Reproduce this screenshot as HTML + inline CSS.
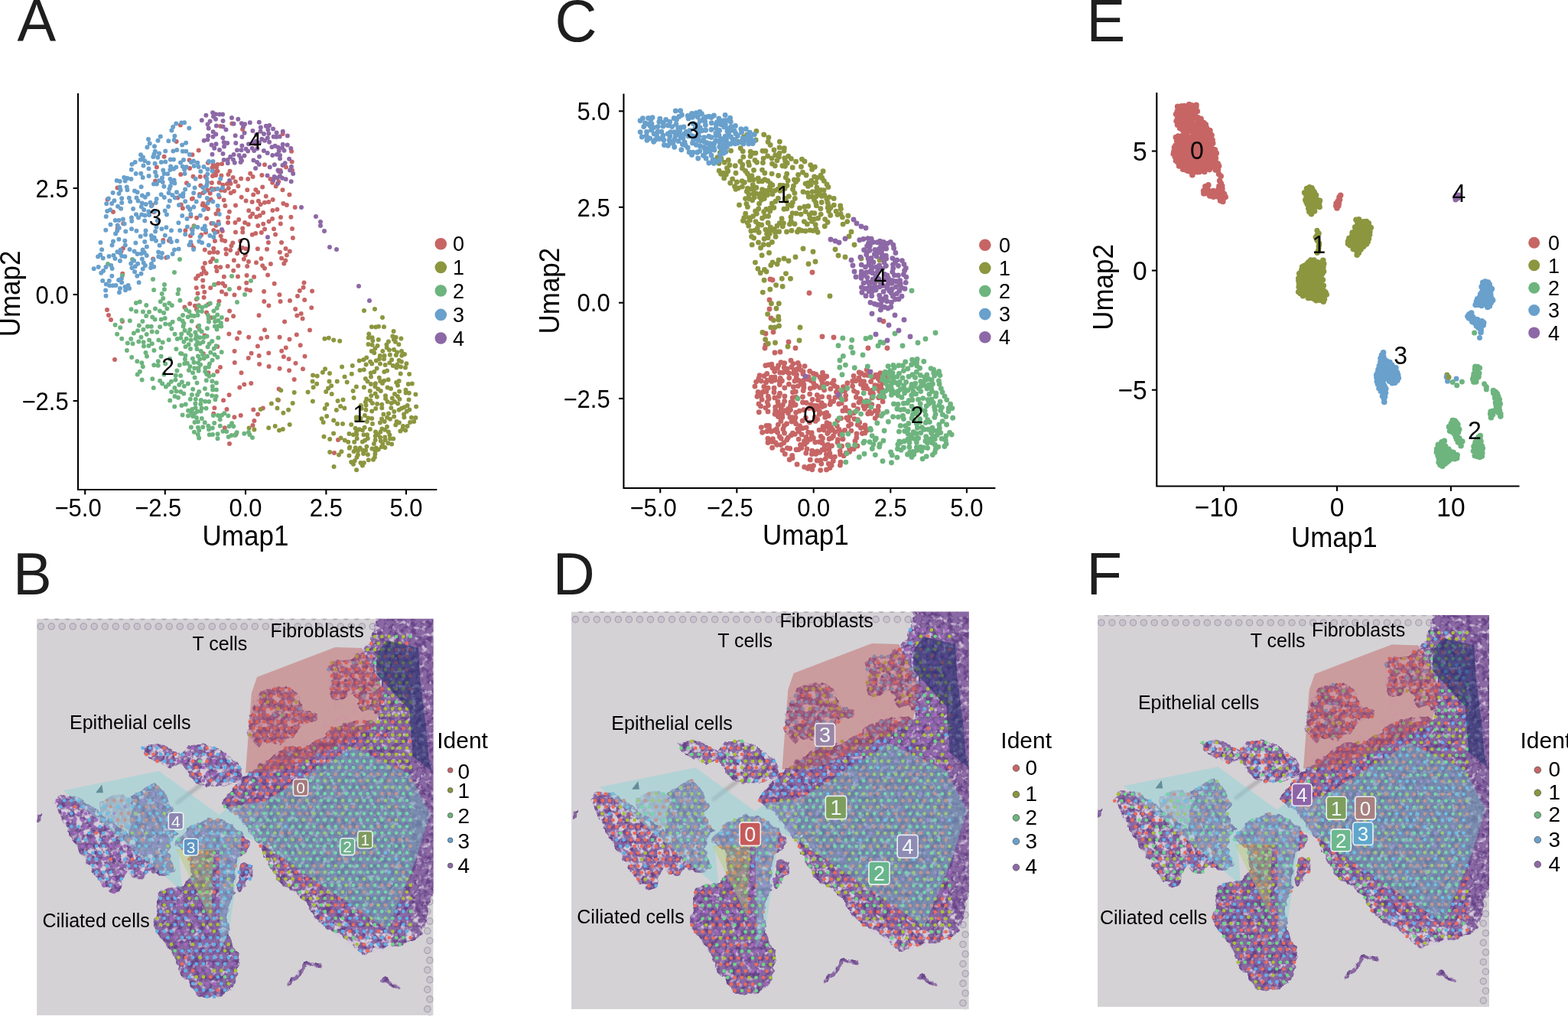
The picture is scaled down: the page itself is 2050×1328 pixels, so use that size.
<!DOCTYPE html>
<html><head><meta charset="utf-8"><title>Figure</title><style>html,body{margin:0;padding:0;background:#fff;overflow:hidden}svg{display:block}text{font-family:"Liberation Sans",Arial,sans-serif}</style></head><body>
<svg width="2050" height="1328" viewBox="0 0 2050 1328" font-family="Liberation Sans, Arial, sans-serif">
<rect width="2050" height="1328" fill="#fff"/>
<text transform="translate(22.4 53.8) scale(1 1.030)" font-size="76" text-anchor="start" fill="#1e1e1e">A</text>
<text transform="translate(725.5 53.8) scale(1 1.030)" font-size="76" text-anchor="start" fill="#1e1e1e">C</text>
<text transform="translate(1420.5 53.8) scale(1 1.030)" font-size="76" text-anchor="start" fill="#1e1e1e">E</text>
<text transform="translate(17.0 776.6) scale(1 1.030)" font-size="76" text-anchor="start" fill="#1e1e1e">B</text>
<text transform="translate(722.7 776.6) scale(1 1.030)" font-size="76" text-anchor="start" fill="#1e1e1e">D</text>
<text transform="translate(1420.5 776.6) scale(1 1.030)" font-size="76" text-anchor="start" fill="#1e1e1e">F</text>
<defs>
<filter id="rough" x="-5%" y="-5%" width="110%" height="110%" color-interpolation-filters="sRGB">
<feTurbulence type="fractalNoise" baseFrequency="0.05" numOctaves="2" seed="4" result="t"/>
<feDisplacementMap in="SourceGraphic" in2="t" scale="16" xChannelSelector="R" yChannelSelector="G" result="d"/>
<feTurbulence type="fractalNoise" baseFrequency="0.075" numOctaves="3" seed="9" result="n"/>
<feColorMatrix in="n" type="matrix" values="0 0 0 0 0.40  0 0 0 0 0.26  0 0 0 0 0.53  3.6 0 0 0 -1.55" result="dk"/>
<feComposite in="dk" in2="d" operator="in" result="dk2"/>
<feColorMatrix in="n" type="matrix" values="0 0 0 0 0.8  0 0 0 0 0.74  0 0 0 0 0.84  0 0 4.2 0 -2.3" result="lt"/>
<feComposite in="lt" in2="d" operator="in" result="lt2"/>
<feMerge><feMergeNode in="d"/><feMergeNode in="dk2"/><feMergeNode in="lt2"/></feMerge>
</filter>
<filter id="blur3"><feGaussianBlur stdDeviation="3"/></filter>
<filter id="holes" x="0" y="0" width="1" height="1" color-interpolation-filters="sRGB">
<feTurbulence type="fractalNoise" baseFrequency="0.06" numOctaves="3" seed="33" result="h"/>
<feColorMatrix in="h" type="matrix" values="0 0 0 0 0.83  0 0 0 0 0.8  0 0 0 0 0.85  0 6 0 0 -3.1" result="hc"/>
<feComposite in="hc" in2="SourceGraphic" operator="in"/>
</filter>
<clipPath id="fr"><rect width="1000" height="1000"/></clipPath>
<g id="tis">
<g filter="url(#rough)"><path d="M862 -30 1030 -30 1030 694 1000 700 990 743 976 802 951 821 902 836 854 841 829 855 805 836 780 811 732 787 702 758 683 723 654 694 624 680 595 641 576 602 561 573 537 544 512 504 478 485 468 470 488 451 520 410 560 380 598 357 632 330 667 330 701 319 732 304 747 285 770 277 793 269 824 266 847 266 860 271 866 250 847 235 824 243 812 227 820 212 801 197 778 208 762 216 747 204 740 181 747 158 738 132 747 113 770 111 793 109 808 97 828 86 839 74 847 55 856 36ZM537 281 541 250 552 216 575 193 598 181 629 180 648 183 663 200 671 220 682 243 713 246 709 266 682 269 667 288 648 308 629 315 613 327 579 319 560 330 548 311 537 300ZM268 329 302 324 345 335 365 350 385 329 424 324 463 338 498 363 517 382 522 407 507 421 468 431 429 431 400 416 378 388 360 372 342 382 302 368 278 353ZM241 456 261 446 278 433 290 426 303 421 313 433 325 446 335 470 345 490 335 507 345 535 357 554 345 569 335 594 345 619 350 643 335 656 315 656 295 643 278 631 258 611 241 584 239 554 236 535 240 515 243 485ZM44 475 54 460 73 451 102 456 127 470 161 495 205 524 244 558 273 583 302 607 293 641 273 661 249 661 234 646 220 670 215 695 195 700 176 685 151 651 122 612 98 568 73 524 58 495ZM312 700 342 685 376 680 395 651 385 602 350 577 369 550 394 530 419 520 443 510 468 515 493 525 518 548 537 565 542 582 528 600 510 610 503 651 498 676 505 701 488 724 483 767 488 802 502 841 512 865 510 904 498 938 468 958 439 965 405 958 390 928 366 899 351 865 332 831 312 806 298 782 307 743ZM517 627 546 627 546 661 517 695 507 680ZM5 500 15 497 13 520 6 522Z" fill="#8A68A3"/>
<path d="M639 928 660 910 683 875 717 882M878 919 900 930 917 938" fill="none" stroke="#8A68A3" stroke-width="9" stroke-linecap="round" stroke-linejoin="round"/></g>
<g filter="url(#rough)" opacity=".4"><path d="M160 470 200 452 240 458 245 520 265 565 200 520 165 495Z" fill="#8A68A3"/></g>
<path d="M576 470 800 331 942 399 995 500 956 626 888 792 566 573Z" fill="#2E2050" opacity=".22"/>
<path d="M537 281 541 250 552 216 575 193 598 181 629 180 648 183 663 200 671 220 682 243 713 246 709 266 682 269 667 288 648 308 629 315 613 327 579 319 560 330 548 311 537 300ZM735 110 800 95 830 70 860 30 875 120 870 270 800 280 740 290 700 330 620 345 560 390 540 360 600 330 700 300 750 250 740 180ZM268 329 302 324 345 335 365 350 385 329 424 324 463 338 498 363 517 382 522 407 507 421 468 431 429 431 400 416 378 388 360 372 342 382 302 368 278 353ZM560 580 600 640 660 700 720 780 800 840 860 850 950 830 990 750 960 750 900 800 820 800 740 740 670 670 610 600 580 560ZM44 475 54 460 73 451 102 456 127 470 161 495 205 524 244 558 273 583 302 607 293 641 273 661 249 661 234 646 220 670 215 695 195 700 176 685 151 651 122 612 98 568 73 524 58 495Z" fill="#000" filter="url(#holes)"/>
<path d="M152 447L168 426L171 447Z" fill="#4F5A6A"/>
<path d="M355 474Q385 450 420 425" stroke="#8A8A8E" stroke-width="10" fill="none" opacity=".45" filter="url(#blur3)"/>
</g>
<g id="fid"><path d="M10.0 19.5h0M37.0 19.5h0M64.0 19.5h0M91.0 19.5h0M118.0 19.5h0M145.0 19.5h0M172.0 19.5h0M199.0 19.5h0M226.0 19.5h0M253.0 19.5h0M280.0 19.5h0M307.0 19.5h0M334.0 19.5h0M361.0 19.5h0M388.0 19.5h0M415.0 19.5h0M442.0 19.5h0M469.0 19.5h0M496.0 19.5h0M523.0 19.5h0M550.0 19.5h0M577.0 19.5h0M604.0 19.5h0M631.0 19.5h0M658.0 19.5h0M685.0 19.5h0M712.0 19.5h0M739.0 19.5h0M766.0 19.5h0M793.0 19.5h0M820.0 19.5h0M847.0 19.5h0M23.5 -6h0M50.5 -6h0M77.5 -6h0M104.5 -6h0M131.5 -6h0M158.5 -6h0M185.5 -6h0M212.5 -6h0M239.5 -6h0M266.5 -6h0M293.5 -6h0M320.5 -6h0M347.5 -6h0M374.5 -6h0M401.5 -6h0M428.5 -6h0M455.5 -6h0M482.5 -6h0M509.5 -6h0M536.5 -6h0M563.5 -6h0M590.5 -6h0M617.5 -6h0M644.5 -6h0M671.5 -6h0M698.5 -6h0M725.5 -6h0M752.5 -6h0M779.5 -6h0M806.5 -6h0M833.5 -6h0M860.5 -6h0M991 615.0h0M985 639.6h0M991 664.2h0M985 688.8h0M991 713.4h0M985 738.0h0M991 762.6h0M985 787.2h0M991 811.8h0M985 836.4h0M991 861.0h0M985 885.6h0M991 910.2h0M985 934.8h0M991 959.4h0M985 984.0h0M991 1008.6h0" stroke="#ABA2B4" stroke-width="18.5" stroke-linecap="round"/><path d="M10.0 19.5h0M37.0 19.5h0M64.0 19.5h0M91.0 19.5h0M118.0 19.5h0M145.0 19.5h0M172.0 19.5h0M199.0 19.5h0M226.0 19.5h0M253.0 19.5h0M280.0 19.5h0M307.0 19.5h0M334.0 19.5h0M361.0 19.5h0M388.0 19.5h0M415.0 19.5h0M442.0 19.5h0M469.0 19.5h0M496.0 19.5h0M523.0 19.5h0M550.0 19.5h0M577.0 19.5h0M604.0 19.5h0M631.0 19.5h0M658.0 19.5h0M685.0 19.5h0M712.0 19.5h0M739.0 19.5h0M766.0 19.5h0M793.0 19.5h0M820.0 19.5h0M847.0 19.5h0M23.5 -6h0M50.5 -6h0M77.5 -6h0M104.5 -6h0M131.5 -6h0M158.5 -6h0M185.5 -6h0M212.5 -6h0M239.5 -6h0M266.5 -6h0M293.5 -6h0M320.5 -6h0M347.5 -6h0M374.5 -6h0M401.5 -6h0M428.5 -6h0M455.5 -6h0M482.5 -6h0M509.5 -6h0M536.5 -6h0M563.5 -6h0M590.5 -6h0M617.5 -6h0M644.5 -6h0M671.5 -6h0M698.5 -6h0M725.5 -6h0M752.5 -6h0M779.5 -6h0M806.5 -6h0M833.5 -6h0M860.5 -6h0M991 615.0h0M985 639.6h0M991 664.2h0M985 688.8h0M991 713.4h0M985 738.0h0M991 762.6h0M985 787.2h0M991 811.8h0M985 836.4h0M991 861.0h0M985 885.6h0M991 910.2h0M985 934.8h0M991 959.4h0M985 984.0h0M991 1008.6h0" stroke="#C8C4CC" stroke-width="13.5" stroke-linecap="round"/></g>
<g id="ovl">
<path d="M559 155 756 80 823 82 878 188 858 278 721 348 616 393 530 397 545 196Z" fill="#BE5050" fill-opacity=".42"/>
<path d="M71 441 312 392 463 502 488 482 576 470 800 331 942 399 995 500 956 626 888 792 566 573 520 553 517 602 488 798 466 846 463 592 361 590 371 695Z" fill="#82D5D8" fill-opacity=".42"/>
<path d="M886 63 966 82 970 161 985 280 992 360 1000 393 952 355 943 238 859 146 861 95Z" fill="#1C2E6A" fill-opacity=".55"/>
<path d="M355 589 450 589 443 768Z" fill="#A9CC66" fill-opacity=".4"/>
</g>
</defs>
<clipPath id="cB"><rect x="48.1" y="808.7" width="518.5" height="518.5"/></clipPath>
<g clip-path="url(#cB)"><rect x="48.1" y="808.7" width="518.5" height="518.5" fill="#D4D2D5"/><g transform="translate(48.1 808.7) scale(0.51850)"><use href="#fid"/></g><g transform="translate(46.2 804.6) scale(0.51850)"><use href="#tis"/></g><g transform="translate(46.2 804.6) scale(0.51850)"><path d="M847 70h0M937 70h0M910 86h0M928 86h0M946 86h0M829 103h0M847 103h0M883 103h0M919 103h0M937 103h0M766 119h0M784 119h0M838 119h0M910 119h0M775 136h0M793 136h0M811 136h0M829 136h0M847 136h0M865 136h0M901 136h0M937 136h0M748 152h0M766 152h0M784 152h0M802 152h0M820 152h0M838 152h0M856 152h0M892 152h0M946 152h0M757 169h0M775 169h0M793 169h0M811 169h0M829 169h0M847 169h0M883 169h0M604 185h0M622 185h0M640 185h0M748 185h0M766 185h0M784 185h0M802 185h0M838 185h0M874 185h0M946 185h0M595 202h0M613 202h0M631 202h0M649 202h0M757 202h0M775 202h0M811 202h0M847 202h0M865 202h0M937 202h0M568 218h0M604 218h0M622 218h0M640 218h0M820 218h0M838 218h0M874 218h0M559 235h0M577 235h0M595 235h0M631 235h0M649 235h0M865 235h0M550 251h0M568 251h0M586 251h0M640 251h0M658 251h0M676 251h0M694 251h0M541 268h0M559 268h0M577 268h0M595 268h0M613 268h0M631 268h0M649 268h0M667 268h0M685 268h0M811 268h0M829 268h0M901 268h0M550 284h0M568 284h0M586 284h0M604 284h0M622 284h0M640 284h0M658 284h0M748 284h0M784 284h0M838 284h0M928 284h0M559 301h0M577 301h0M595 301h0M613 301h0M631 301h0M649 301h0M739 301h0M757 301h0M775 301h0M793 301h0M811 301h0M865 301h0M883 301h0M568 317h0M586 317h0M604 317h0M622 317h0M712 317h0M730 317h0M748 317h0M766 317h0M784 317h0M802 317h0M820 317h0M946 317h0M325 334h0M433 334h0M631 334h0M649 334h0M667 334h0M685 334h0M721 334h0M739 334h0M775 334h0M811 334h0M280 350h0M298 350h0M352 350h0M442 350h0M622 350h0M676 350h0M694 350h0M730 350h0M748 350h0M766 350h0M856 350h0M307 367h0M397 367h0M433 367h0M595 367h0M613 367h0M631 367h0M649 367h0M667 367h0M703 367h0M721 367h0M739 367h0M865 367h0M406 383h0M586 383h0M604 383h0M640 383h0M658 383h0M694 383h0M820 383h0M910 383h0M397 400h0M415 400h0M487 400h0M577 400h0M595 400h0M631 400h0M649 400h0M685 400h0M703 400h0M757 400h0M811 400h0M847 400h0M865 400h0M901 400h0M919 400h0M442 416h0M532 416h0M568 416h0M586 416h0M604 416h0M622 416h0M640 416h0M658 416h0M820 416h0M892 416h0M946 416h0M307 433h0M505 433h0M523 433h0M541 433h0M577 433h0M595 433h0M631 433h0M667 433h0M685 433h0M757 433h0M829 433h0M280 449h0M514 449h0M550 449h0M568 449h0M586 449h0M604 449h0M640 449h0M658 449h0M694 449h0M766 449h0M874 449h0M892 449h0M910 449h0M181 466h0M199 466h0M217 466h0M253 466h0M487 466h0M505 466h0M541 466h0M559 466h0M577 466h0M631 466h0M667 466h0M703 466h0M865 466h0M100 482h0M190 482h0M280 482h0M298 482h0M496 482h0M532 482h0M568 482h0M640 482h0M658 482h0M694 482h0M766 482h0M802 482h0M910 482h0M217 499h0M235 499h0M271 499h0M505 499h0M523 499h0M559 499h0M631 499h0M667 499h0M685 499h0M739 499h0M208 515h0M226 515h0M244 515h0M280 515h0M298 515h0M442 515h0M460 515h0M532 515h0M694 515h0M766 515h0M802 515h0M892 515h0M217 532h0M271 532h0M307 532h0M433 532h0M451 532h0M469 532h0M721 532h0M775 532h0M793 532h0M811 532h0M865 532h0M154 548h0M262 548h0M622 548h0M640 548h0M802 548h0M235 565h0M271 565h0M379 565h0M487 565h0M523 565h0M595 565h0M667 565h0M901 565h0M919 565h0M937 565h0M424 581h0M496 581h0M514 581h0M532 581h0M568 581h0M586 581h0M622 581h0M802 581h0M820 581h0M838 581h0M946 581h0M307 598h0M415 598h0M433 598h0M739 598h0M811 598h0M847 598h0M190 614h0M244 614h0M334 614h0M388 614h0M460 614h0M478 614h0M622 614h0M766 614h0M784 614h0M307 631h0M343 631h0M397 631h0M433 631h0M505 631h0M523 631h0M631 631h0M703 631h0M721 631h0M829 631h0M901 631h0M919 631h0M460 647h0M622 647h0M658 647h0M712 647h0M928 647h0M667 664h0M685 664h0M721 664h0M478 680h0M676 680h0M712 680h0M820 680h0M838 680h0M874 680h0M892 680h0M451 697h0M703 697h0M793 697h0M829 697h0M901 697h0M919 697h0M766 713h0M910 713h0M757 730h0M775 730h0M847 730h0M883 730h0M388 746h0M748 746h0M784 746h0M820 746h0M721 763h0M802 779h0M874 779h0M910 779h0M793 796h0M865 796h0M820 812h0M892 812h0M946 812h0M829 829h0M838 845h0M379 862h0M370 878h0M397 895h0M442 911h0M460 944h0" stroke="#EC6B58" stroke-width="9" stroke-linecap="round"/><path d="M856 53h0M874 53h0M892 53h0M928 53h0M865 70h0M883 70h0M901 70h0M919 70h0M838 86h0M856 86h0M874 86h0M892 86h0M811 103h0M865 103h0M901 103h0M748 119h0M820 119h0M874 119h0M892 119h0M928 119h0M946 119h0M757 136h0M883 136h0M919 136h0M910 152h0M928 152h0M901 169h0M919 169h0M937 169h0M820 185h0M892 185h0M910 185h0M928 185h0M577 202h0M901 202h0M919 202h0M586 218h0M658 218h0M856 218h0M892 218h0M928 218h0M946 218h0M613 235h0M829 235h0M883 235h0M901 235h0M919 235h0M937 235h0M874 251h0M892 251h0M910 251h0M928 251h0M946 251h0M865 268h0M883 268h0M919 268h0M937 268h0M766 284h0M802 284h0M820 284h0M892 284h0M910 284h0M946 284h0M541 301h0M829 301h0M847 301h0M901 301h0M919 301h0M937 301h0M838 317h0M856 317h0M874 317h0M892 317h0M910 317h0M928 317h0M793 334h0M829 334h0M847 334h0M901 334h0M919 334h0M937 334h0M658 350h0M820 350h0M874 350h0M892 350h0M910 350h0M928 350h0M946 350h0M685 367h0M757 367h0M883 367h0M901 367h0M919 367h0M937 367h0M568 383h0M622 383h0M766 383h0M892 383h0M928 383h0M946 383h0M721 400h0M730 416h0M766 416h0M838 416h0M613 433h0M739 433h0M883 433h0M901 433h0M937 433h0M676 449h0M649 466h0M685 466h0M775 466h0M811 466h0M883 466h0M514 482h0M586 482h0M622 482h0M784 482h0M892 482h0M253 499h0M325 499h0M541 499h0M613 499h0M703 499h0M775 499h0M622 515h0M676 515h0M910 515h0M577 532h0M613 532h0M901 532h0M244 548h0M280 548h0M604 548h0M730 548h0M766 548h0M505 565h0M649 565h0M829 565h0M847 565h0M334 581h0M856 581h0M577 598h0M595 598h0M667 598h0M685 598h0M775 598h0M829 598h0M586 614h0M604 614h0M613 631h0M649 631h0M757 631h0M406 647h0M604 647h0M640 647h0M694 647h0M730 647h0M910 647h0M487 664h0M613 664h0M631 664h0M649 664h0M703 664h0M757 664h0M775 664h0M829 664h0M919 664h0M937 664h0M388 680h0M406 680h0M424 680h0M496 680h0M640 680h0M694 680h0M784 680h0M946 680h0M325 697h0M379 697h0M685 697h0M721 697h0M739 697h0M775 697h0M937 697h0M388 713h0M676 713h0M694 713h0M712 713h0M748 713h0M784 713h0M838 713h0M928 713h0M946 713h0M325 730h0M397 730h0M703 730h0M739 730h0M865 730h0M334 746h0M370 746h0M442 746h0M892 746h0M307 763h0M469 763h0M847 763h0M883 763h0M316 779h0M334 779h0M388 779h0M424 779h0M442 779h0M460 779h0M766 779h0M838 779h0M946 779h0M451 796h0M901 796h0M784 812h0M343 829h0M397 829h0M487 829h0M811 829h0M478 845h0M361 862h0M415 862h0M451 895h0M469 895h0M505 895h0M406 911h0M424 911h0M415 928h0M487 928h0" stroke="#A9C233" stroke-width="9" stroke-linecap="round"/><path d="M910 53h0M946 53h0M856 119h0M874 152h0M865 169h0M856 185h0M883 202h0M910 218h0M622 251h0M847 268h0M856 284h0M874 284h0M703 334h0M757 334h0M865 334h0M883 334h0M802 350h0M838 350h0M415 367h0M775 367h0M793 367h0M811 367h0M829 367h0M847 367h0M676 383h0M712 383h0M730 383h0M748 383h0M784 383h0M802 383h0M838 383h0M856 383h0M874 383h0M613 400h0M739 400h0M775 400h0M793 400h0M829 400h0M883 400h0M937 400h0M550 416h0M676 416h0M694 416h0M712 416h0M748 416h0M784 416h0M802 416h0M856 416h0M874 416h0M910 416h0M928 416h0M559 433h0M649 433h0M703 433h0M721 433h0M775 433h0M793 433h0M811 433h0M847 433h0M865 433h0M919 433h0M496 449h0M532 449h0M622 449h0M712 449h0M730 449h0M748 449h0M784 449h0M802 449h0M820 449h0M838 449h0M856 449h0M928 449h0M946 449h0M523 466h0M595 466h0M613 466h0M721 466h0M739 466h0M757 466h0M793 466h0M829 466h0M847 466h0M901 466h0M919 466h0M937 466h0M478 482h0M550 482h0M604 482h0M676 482h0M712 482h0M730 482h0M748 482h0M820 482h0M838 482h0M856 482h0M874 482h0M928 482h0M946 482h0M577 499h0M595 499h0M649 499h0M721 499h0M757 499h0M793 499h0M811 499h0M829 499h0M847 499h0M865 499h0M883 499h0M901 499h0M919 499h0M937 499h0M550 515h0M568 515h0M586 515h0M604 515h0M640 515h0M658 515h0M712 515h0M730 515h0M748 515h0M784 515h0M820 515h0M838 515h0M856 515h0M874 515h0M928 515h0M946 515h0M415 532h0M541 532h0M559 532h0M595 532h0M649 532h0M667 532h0M685 532h0M703 532h0M739 532h0M757 532h0M829 532h0M847 532h0M883 532h0M919 532h0M937 532h0M478 548h0M514 548h0M550 548h0M568 548h0M586 548h0M658 548h0M676 548h0M694 548h0M712 548h0M748 548h0M784 548h0M820 548h0M838 548h0M856 548h0M874 548h0M892 548h0M910 548h0M928 548h0M946 548h0M361 565h0M451 565h0M559 565h0M577 565h0M613 565h0M631 565h0M685 565h0M703 565h0M721 565h0M739 565h0M757 565h0M775 565h0M793 565h0M811 565h0M865 565h0M883 565h0M478 581h0M604 581h0M640 581h0M658 581h0M676 581h0M694 581h0M712 581h0M730 581h0M748 581h0M766 581h0M784 581h0M874 581h0M892 581h0M910 581h0M928 581h0M451 598h0M469 598h0M523 598h0M613 598h0M631 598h0M649 598h0M703 598h0M721 598h0M757 598h0M793 598h0M865 598h0M901 598h0M919 598h0M937 598h0M424 614h0M442 614h0M640 614h0M658 614h0M676 614h0M694 614h0M712 614h0M730 614h0M748 614h0M802 614h0M820 614h0M838 614h0M856 614h0M874 614h0M892 614h0M928 614h0M946 614h0M415 631h0M451 631h0M595 631h0M667 631h0M685 631h0M739 631h0M775 631h0M793 631h0M811 631h0M847 631h0M865 631h0M883 631h0M937 631h0M676 647h0M748 647h0M766 647h0M784 647h0M802 647h0M820 647h0M838 647h0M856 647h0M874 647h0M946 647h0M433 664h0M739 664h0M793 664h0M811 664h0M847 664h0M865 664h0M883 664h0M901 664h0M658 680h0M730 680h0M748 680h0M766 680h0M802 680h0M856 680h0M910 680h0M928 680h0M415 697h0M433 697h0M667 697h0M757 697h0M811 697h0M847 697h0M865 697h0M883 697h0M406 713h0M730 713h0M802 713h0M820 713h0M856 713h0M874 713h0M892 713h0M721 730h0M811 730h0M829 730h0M901 730h0M424 746h0M730 746h0M802 746h0M856 746h0M874 746h0M946 746h0M757 763h0M775 763h0M829 763h0M865 763h0M901 763h0M856 779h0M892 779h0M397 796h0M757 796h0M802 812h0M910 812h0M928 812h0M901 829h0M919 829h0M352 845h0M496 845h0M478 911h0" stroke="#6AD886" stroke-width="9" stroke-linecap="round"/><path d="M802 119h0M739 136h0M829 202h0M667 235h0M847 235h0M604 251h0M271 334h0M289 334h0M307 334h0M415 334h0M451 334h0M316 350h0M334 350h0M370 350h0M406 350h0M424 350h0M460 350h0M640 350h0M712 350h0M784 350h0M325 367h0M343 367h0M469 367h0M487 367h0M388 383h0M442 383h0M460 383h0M478 383h0M496 383h0M514 383h0M469 400h0M505 400h0M541 400h0M559 400h0M667 400h0M406 416h0M460 416h0M478 416h0M496 416h0M289 433h0M262 449h0M316 449h0M73 466h0M91 466h0M109 466h0M235 466h0M289 466h0M325 466h0M64 482h0M118 482h0M172 482h0M208 482h0M244 482h0M262 482h0M334 482h0M91 499h0M163 499h0M181 499h0M289 499h0M307 499h0M136 515h0M172 515h0M190 515h0M262 515h0M316 515h0M334 515h0M91 532h0M109 532h0M163 532h0M235 532h0M253 532h0M325 532h0M343 532h0M397 532h0M487 532h0M631 532h0M136 548h0M172 548h0M208 548h0M226 548h0M298 548h0M316 548h0M334 548h0M352 548h0M406 548h0M442 548h0M460 548h0M496 548h0M109 565h0M127 565h0M163 565h0M199 565h0M217 565h0M253 565h0M289 565h0M343 565h0M397 565h0M415 565h0M433 565h0M469 565h0M154 581h0M172 581h0M262 581h0M280 581h0M370 581h0M388 581h0M442 581h0M460 581h0M127 598h0M145 598h0M163 598h0M181 598h0M217 598h0M253 598h0M325 598h0M397 598h0M487 598h0M883 598h0M136 614h0M154 614h0M226 614h0M262 614h0M280 614h0M298 614h0M316 614h0M910 614h0M145 631h0M181 631h0M235 631h0M253 631h0M271 631h0M289 631h0M325 631h0M469 631h0M487 631h0M541 631h0M154 647h0M172 647h0M190 647h0M244 647h0M280 647h0M316 647h0M334 647h0M424 647h0M442 647h0M478 647h0M496 647h0M514 647h0M532 647h0M892 647h0M163 664h0M181 664h0M217 664h0M397 664h0M451 664h0M469 664h0M523 664h0M541 664h0M190 680h0M442 680h0M460 680h0M514 680h0M343 697h0M397 697h0M469 697h0M487 697h0M316 713h0M334 713h0M352 713h0M424 713h0M442 713h0M478 713h0M343 730h0M379 730h0M433 730h0M451 730h0M469 730h0M793 730h0M919 730h0M937 730h0M316 746h0M352 746h0M406 746h0M460 746h0M712 746h0M766 746h0M838 746h0M910 746h0M928 746h0M325 763h0M361 763h0M379 763h0M415 763h0M433 763h0M451 763h0M739 763h0M793 763h0M811 763h0M919 763h0M937 763h0M352 779h0M370 779h0M478 779h0M730 779h0M748 779h0M784 779h0M820 779h0M928 779h0M307 796h0M325 796h0M343 796h0M415 796h0M469 796h0M775 796h0M811 796h0M829 796h0M847 796h0M883 796h0M919 796h0M937 796h0M334 812h0M370 812h0M388 812h0M406 812h0M424 812h0M442 812h0M460 812h0M478 812h0M838 812h0M856 812h0M874 812h0M415 829h0M433 829h0M451 829h0M469 829h0M847 829h0M865 829h0M883 829h0M370 845h0M388 845h0M406 845h0M424 845h0M442 845h0M460 845h0M820 845h0M397 862h0M433 862h0M451 862h0M469 862h0M487 862h0M505 862h0M388 878h0M406 878h0M424 878h0M460 878h0M478 878h0M379 895h0M487 895h0M388 911h0M460 911h0M496 911h0M397 928h0M469 928h0M406 944h0M424 944h0M442 944h0M478 944h0M433 961h0M451 961h0" stroke="#5DB3E8" stroke-width="9" stroke-linecap="round"/><path d="M397 334h0M388 350h0M478 350h0M361 367h0M379 367h0M451 367h0M424 383h0M433 400h0M451 400h0M424 416h0M298 449h0M55 466h0M271 466h0M307 466h0M82 482h0M136 482h0M226 482h0M316 482h0M73 499h0M109 499h0M127 499h0M145 499h0M199 499h0M82 515h0M100 515h0M118 515h0M154 515h0M127 532h0M145 532h0M181 532h0M199 532h0M289 532h0M100 548h0M118 548h0M190 548h0M388 548h0M424 548h0M145 565h0M181 565h0M307 565h0M325 565h0M118 581h0M136 581h0M190 581h0M208 581h0M226 581h0M244 581h0M298 581h0M316 581h0M406 581h0M199 598h0M235 598h0M271 598h0M289 598h0M505 598h0M172 614h0M208 614h0M406 614h0M496 614h0M163 631h0M199 631h0M217 631h0M208 647h0M226 647h0M262 647h0M199 664h0M415 664h0M172 680h0M208 680h0M199 697h0M361 697h0M370 713h0M460 713h0M361 730h0M415 730h0M478 746h0M343 763h0M397 763h0M406 779h0M361 796h0M379 796h0M433 796h0M352 812h0M361 829h0M379 829h0M442 878h0M496 878h0M415 895h0M433 895h0M433 928h0M451 928h0" stroke="#A466C0" stroke-width="9" stroke-linecap="round"/><use href="#ovl"/></g></g>
<clipPath id="cD"><rect x="747.0" y="799.5" width="519.8" height="519.8"/></clipPath>
<g clip-path="url(#cD)"><rect x="747.0" y="799.5" width="519.8" height="519.8" fill="#D4D2D5"/><g transform="translate(747.0 799.5) scale(0.51980)"><use href="#fid"/></g><g transform="translate(747.0 799.5) scale(0.51980)"><use href="#tis"/></g><g transform="translate(747.0 799.5) scale(0.51980)"><path d="M897 62h0M825 95h0M879 95h0M951 95h0M834 112h0M906 112h0M771 128h0M807 128h0M933 128h0M906 145h0M843 161h0M915 161h0M762 178h0M816 178h0M645 194h0M861 194h0M582 211h0M600 211h0M843 227h0M663 260h0M951 260h0M582 277h0M672 277h0M816 277h0M537 293h0M807 293h0M897 293h0M726 310h0M312 343h0M330 343h0M348 343h0M384 343h0M402 343h0M420 343h0M690 343h0M339 359h0M357 359h0M429 359h0M447 359h0M645 359h0M681 359h0M843 359h0M366 376h0M492 376h0M870 376h0M888 376h0M393 392h0M411 392h0M447 392h0M465 392h0M501 392h0M645 392h0M735 392h0M825 392h0M951 392h0M420 409h0M456 409h0M528 409h0M564 409h0M600 409h0M618 409h0M654 409h0M690 409h0M726 409h0M744 409h0M852 409h0M870 409h0M888 409h0M303 425h0M483 425h0M645 425h0M681 425h0M699 425h0M753 425h0M771 425h0M807 425h0M861 425h0M933 425h0M951 425h0M294 442h0M312 442h0M636 442h0M654 442h0M690 442h0M762 442h0M780 442h0M798 442h0M816 442h0M834 442h0M906 442h0M69 458h0M87 458h0M195 458h0M267 458h0M555 458h0M573 458h0M591 458h0M663 458h0M681 458h0M753 458h0M771 458h0M915 458h0M60 475h0M78 475h0M96 475h0M114 475h0M132 475h0M186 475h0M240 475h0M276 475h0M294 475h0M330 475h0M474 475h0M492 475h0M510 475h0M564 475h0M582 475h0M654 475h0M690 475h0M834 475h0M852 475h0M888 475h0M942 475h0M87 491h0M105 491h0M213 491h0M231 491h0M339 491h0M663 491h0M699 491h0M753 491h0M789 491h0M807 491h0M933 491h0M114 508h0M150 508h0M222 508h0M258 508h0M546 508h0M600 508h0M654 508h0M708 508h0M780 508h0M816 508h0M834 508h0M906 508h0M87 524h0M105 524h0M123 524h0M177 524h0M213 524h0M339 524h0M465 524h0M483 524h0M627 524h0M699 524h0M753 524h0M825 524h0M843 524h0M879 524h0M96 541h0M114 541h0M132 541h0M150 541h0M168 541h0M186 541h0M204 541h0M222 541h0M258 541h0M312 541h0M348 541h0M384 541h0M420 541h0M456 541h0M474 541h0M618 541h0M690 541h0M726 541h0M762 541h0M780 541h0M834 541h0M942 541h0M105 557h0M141 557h0M159 557h0M177 557h0M195 557h0M231 557h0M285 557h0M321 557h0M411 557h0M429 557h0M483 557h0M501 557h0M519 557h0M573 557h0M591 557h0M645 557h0M681 557h0M843 557h0M861 557h0M879 557h0M933 557h0M150 574h0M168 574h0M186 574h0M222 574h0M240 574h0M258 574h0M312 574h0M366 574h0M384 574h0M420 574h0M528 574h0M600 574h0M672 574h0M870 574h0M888 574h0M942 574h0M159 590h0M177 590h0M195 590h0M213 590h0M249 590h0M285 590h0M303 590h0M321 590h0M375 590h0M393 590h0M429 590h0M447 590h0M483 590h0M519 590h0M573 590h0M627 590h0M645 590h0M753 590h0M789 590h0M879 590h0M915 590h0M933 590h0M150 607h0M168 607h0M204 607h0M222 607h0M240 607h0M258 607h0M276 607h0M294 607h0M312 607h0M420 607h0M438 607h0M510 607h0M600 607h0M654 607h0M690 607h0M942 607h0M141 623h0M159 623h0M195 623h0M213 623h0M231 623h0M249 623h0M267 623h0M303 623h0M321 623h0M393 623h0M411 623h0M429 623h0M483 623h0M501 623h0M645 623h0M735 623h0M753 623h0M789 623h0M843 623h0M879 623h0M150 640h0M168 640h0M204 640h0M222 640h0M240 640h0M258 640h0M294 640h0M420 640h0M474 640h0M492 640h0M528 640h0M708 640h0M762 640h0M834 640h0M852 640h0M159 656h0M177 656h0M195 656h0M213 656h0M249 656h0M267 656h0M393 656h0M411 656h0M483 656h0M537 656h0M663 656h0M753 656h0M879 656h0M897 656h0M168 673h0M204 673h0M402 673h0M474 673h0M492 673h0M636 673h0M654 673h0M690 673h0M708 673h0M744 673h0M816 673h0M852 673h0M195 689h0M375 689h0M429 689h0M465 689h0M699 689h0M771 689h0M789 689h0M807 689h0M843 689h0M312 706h0M330 706h0M348 706h0M402 706h0M762 706h0M780 706h0M798 706h0M834 706h0M852 706h0M447 722h0M699 722h0M735 722h0M825 722h0M843 722h0M933 722h0M312 739h0M384 739h0M402 739h0M420 739h0M438 739h0M708 739h0M726 739h0M798 739h0M816 739h0M852 739h0M870 739h0M888 739h0M906 739h0M924 739h0M942 739h0M357 755h0M447 755h0M483 755h0M717 755h0M753 755h0M771 755h0M807 755h0M825 755h0M879 755h0M915 755h0M366 772h0M402 772h0M420 772h0M726 772h0M798 772h0M816 772h0M852 772h0M888 772h0M924 772h0M303 788h0M357 788h0M375 788h0M393 788h0M429 788h0M447 788h0M465 788h0M735 788h0M753 788h0M771 788h0M789 788h0M807 788h0M843 788h0M312 805h0M330 805h0M348 805h0M780 805h0M798 805h0M816 805h0M852 805h0M870 805h0M888 805h0M942 805h0M339 821h0M357 821h0M393 821h0M483 821h0M825 821h0M861 821h0M879 821h0M897 821h0M915 821h0M933 821h0M951 821h0M348 838h0M384 838h0M402 838h0M420 838h0M438 838h0M816 838h0M852 838h0M870 838h0M357 854h0M393 854h0M402 871h0M420 871h0M474 871h0M492 871h0M375 887h0M393 887h0M429 887h0M465 887h0M420 904h0M438 904h0M492 904h0M411 920h0M429 920h0M483 920h0M402 937h0M420 937h0M438 937h0M456 937h0M411 953h0M447 953h0" stroke="#EC6B58" stroke-width="9" stroke-linecap="round"/><path d="M906 46h0M879 62h0M951 62h0M870 79h0M924 79h0M915 95h0M816 112h0M870 112h0M789 128h0M843 128h0M879 128h0M951 128h0M780 145h0M798 145h0M834 145h0M870 145h0M888 145h0M924 145h0M753 161h0M771 161h0M825 161h0M879 161h0M897 161h0M933 161h0M744 178h0M924 178h0M942 178h0M591 194h0M609 194h0M627 194h0M753 194h0M897 194h0M951 194h0M636 211h0M762 211h0M834 211h0M852 211h0M924 211h0M942 211h0M627 227h0M645 227h0M663 227h0M825 227h0M933 227h0M951 227h0M600 244h0M654 244h0M672 244h0M906 244h0M681 260h0M933 260h0M870 277h0M573 293h0M609 293h0M627 293h0M843 293h0M933 293h0M951 293h0M564 310h0M600 310h0M636 310h0M744 310h0M780 310h0M798 310h0M834 310h0M888 310h0M906 310h0M303 326h0M411 326h0M681 326h0M717 326h0M753 326h0M861 326h0M933 326h0M438 343h0M456 343h0M636 343h0M654 343h0M708 343h0M744 343h0M798 343h0M870 343h0M888 343h0M411 359h0M465 359h0M609 359h0M627 359h0M753 359h0M771 359h0M861 359h0M933 359h0M330 376h0M348 376h0M438 376h0M456 376h0M474 376h0M600 376h0M690 376h0M762 376h0M780 376h0M798 376h0M834 376h0M924 376h0M942 376h0M429 392h0M483 392h0M555 392h0M573 392h0M591 392h0M843 392h0M861 392h0M879 392h0M915 392h0M438 409h0M474 409h0M492 409h0M546 409h0M762 409h0M780 409h0M816 409h0M834 409h0M906 409h0M429 425h0M537 425h0M663 425h0M789 425h0M843 425h0M897 425h0M276 442h0M618 442h0M708 442h0M888 442h0M213 458h0M249 458h0M285 458h0M303 458h0M321 458h0M699 458h0M735 458h0M843 458h0M861 458h0M951 458h0M168 475h0M204 475h0M222 475h0M312 475h0M528 475h0M546 475h0M744 475h0M762 475h0M924 475h0M69 491h0M123 491h0M249 491h0M285 491h0M303 491h0M321 491h0M501 491h0M519 491h0M555 491h0M735 491h0M771 491h0M861 491h0M879 491h0M915 491h0M951 491h0M78 508h0M132 508h0M168 508h0M240 508h0M276 508h0M294 508h0M312 508h0M330 508h0M528 508h0M564 508h0M672 508h0M744 508h0M888 508h0M924 508h0M942 508h0M141 524h0M159 524h0M267 524h0M303 524h0M411 524h0M429 524h0M447 524h0M537 524h0M555 524h0M645 524h0M681 524h0M735 524h0M861 524h0M240 541h0M294 541h0M564 541h0M654 541h0M708 541h0M798 541h0M906 541h0M249 557h0M303 557h0M339 557h0M447 557h0M609 557h0M717 557h0M771 557h0M789 557h0M807 557h0M915 557h0M456 574h0M474 574h0M564 574h0M582 574h0M618 574h0M654 574h0M762 574h0M852 574h0M906 574h0M231 590h0M267 590h0M465 590h0M501 590h0M591 590h0M735 590h0M771 590h0M951 590h0M186 607h0M330 607h0M582 607h0M618 607h0M708 607h0M924 607h0M177 623h0M447 623h0M609 623h0M699 623h0M807 623h0M825 623h0M915 623h0M951 623h0M330 640h0M402 640h0M636 640h0M654 640h0M726 640h0M816 640h0M924 640h0M501 656h0M609 656h0M681 656h0M699 656h0M717 656h0M807 656h0M861 656h0M933 656h0M186 673h0M672 673h0M726 673h0M762 673h0M780 673h0M888 673h0M906 673h0M645 689h0M681 689h0M717 689h0M735 689h0M753 689h0M825 689h0M933 689h0M384 706h0M672 706h0M690 706h0M726 706h0M816 706h0M906 706h0M411 722h0M789 722h0M897 722h0M915 722h0M951 722h0M474 739h0M780 739h0M843 755h0M861 755h0M933 755h0M951 755h0M744 772h0M762 772h0M780 772h0M834 772h0M870 772h0M906 772h0M942 772h0M339 788h0M861 788h0M879 788h0M915 788h0M933 788h0M951 788h0M384 805h0M402 805h0M834 805h0M375 821h0M429 821h0M447 821h0M843 821h0M501 854h0M384 871h0M510 871h0M501 887h0M447 920h0M501 920h0" stroke="#A9C233" stroke-width="9" stroke-linecap="round"/><path d="M915 62h0M897 95h0M888 211h0M906 211h0M897 227h0M897 260h0M942 277h0M816 310h0M924 310h0M429 326h0M825 326h0M915 326h0M276 343h0M294 343h0M816 343h0M303 359h0M321 359h0M393 359h0M735 359h0M789 359h0M825 359h0M879 359h0M384 376h0M402 376h0M744 376h0M906 376h0M717 392h0M753 392h0M807 392h0M897 392h0M402 409h0M798 409h0M924 409h0M942 409h0M447 425h0M735 425h0M825 425h0M879 425h0M915 425h0M672 442h0M726 442h0M744 442h0M852 442h0M870 442h0M924 442h0M231 458h0M609 458h0M627 458h0M717 458h0M789 458h0M807 458h0M897 458h0M933 458h0M258 475h0M600 475h0M618 475h0M636 475h0M708 475h0M726 475h0M780 475h0M798 475h0M816 475h0M870 475h0M906 475h0M177 491h0M195 491h0M267 491h0M537 491h0M573 491h0M591 491h0M609 491h0M627 491h0M645 491h0M717 491h0M843 491h0M897 491h0M186 508h0M204 508h0M582 508h0M636 508h0M690 508h0M726 508h0M762 508h0M798 508h0M852 508h0M870 508h0M231 524h0M249 524h0M285 524h0M321 524h0M573 524h0M591 524h0M609 524h0M717 524h0M771 524h0M807 524h0M915 524h0M276 541h0M330 541h0M402 541h0M582 541h0M600 541h0M636 541h0M672 541h0M816 541h0M852 541h0M870 541h0M888 541h0M924 541h0M123 557h0M267 557h0M627 557h0M663 557h0M699 557h0M735 557h0M825 557h0M897 557h0M951 557h0M204 574h0M276 574h0M294 574h0M330 574h0M510 574h0M636 574h0M690 574h0M708 574h0M744 574h0M780 574h0M798 574h0M816 574h0M834 574h0M924 574h0M411 590h0M663 590h0M681 590h0M699 590h0M717 590h0M807 590h0M825 590h0M843 590h0M861 590h0M897 590h0M456 607h0M474 607h0M492 607h0M636 607h0M726 607h0M744 607h0M762 607h0M780 607h0M798 607h0M816 607h0M852 607h0M870 607h0M906 607h0M285 623h0M339 623h0M591 623h0M627 623h0M663 623h0M717 623h0M933 623h0M312 640h0M348 640h0M438 640h0M600 640h0M618 640h0M672 640h0M690 640h0M798 640h0M870 640h0M888 640h0M906 640h0M942 640h0M519 656h0M627 656h0M645 656h0M735 656h0M771 656h0M789 656h0M825 656h0M843 656h0M384 673h0M420 673h0M438 673h0M528 673h0M798 673h0M870 673h0M924 673h0M942 673h0M339 689h0M357 689h0M411 689h0M519 689h0M663 689h0M861 689h0M879 689h0M897 689h0M915 689h0M951 689h0M438 706h0M474 706h0M708 706h0M744 706h0M870 706h0M888 706h0M339 722h0M375 722h0M465 722h0M483 722h0M717 722h0M753 722h0M771 722h0M861 722h0M879 722h0M330 739h0M348 739h0M366 739h0M456 739h0M744 739h0M762 739h0M834 739h0M393 755h0M429 755h0M465 755h0M735 755h0M789 755h0M897 755h0M330 772h0M348 772h0M384 772h0M438 772h0M411 788h0M483 788h0M825 788h0M897 788h0M438 805h0M456 805h0M474 805h0M906 805h0M924 805h0M411 821h0M465 821h0M807 821h0M366 838h0M492 838h0M834 838h0M429 854h0M447 854h0M366 871h0M456 871h0M411 887h0M483 887h0M384 904h0M402 904h0M393 920h0M465 920h0M474 937h0M429 953h0M465 953h0" stroke="#6AD886" stroke-width="9" stroke-linecap="round"/><path d="M852 46h0M852 79h0M762 112h0M780 112h0M798 112h0M753 128h0M825 128h0M744 145h0M762 145h0M816 145h0M852 145h0M789 161h0M807 161h0M861 161h0M780 178h0M798 178h0M834 178h0M852 178h0M870 178h0M771 194h0M789 194h0M807 194h0M825 194h0M843 194h0M564 211h0M618 211h0M654 211h0M870 211h0M555 227h0M573 227h0M591 227h0M609 227h0M861 227h0M546 244h0M564 244h0M582 244h0M618 244h0M636 244h0M690 244h0M870 244h0M888 244h0M555 260h0M573 260h0M591 260h0M609 260h0M627 260h0M645 260h0M699 260h0M546 277h0M564 277h0M600 277h0M618 277h0M636 277h0M654 277h0M780 277h0M798 277h0M834 277h0M852 277h0M555 293h0M591 293h0M645 293h0M753 293h0M771 293h0M789 293h0M825 293h0M582 310h0M618 310h0M762 310h0M942 310h0M699 326h0M735 326h0M771 326h0M789 326h0M618 343h0M672 343h0M726 343h0M762 343h0M780 343h0M852 343h0M375 359h0M483 359h0M663 359h0M699 359h0M717 359h0M420 376h0M510 376h0M582 376h0M618 376h0M636 376h0M654 376h0M672 376h0M708 376h0M726 376h0M609 392h0M627 392h0M663 392h0M681 392h0M699 392h0M771 392h0M510 409h0M582 409h0M636 409h0M672 409h0M465 425h0M519 425h0M555 425h0M573 425h0M591 425h0M609 425h0M627 425h0M510 442h0M528 442h0M546 442h0M564 442h0M582 442h0M600 442h0M105 458h0M483 458h0M501 458h0M519 458h0M537 458h0M645 458h0M141 491h0M96 508h0M195 524h0M789 524h0M951 524h0M438 541h0M492 541h0M213 557h0M375 557h0M393 557h0M465 557h0M114 574h0M132 574h0M402 574h0M438 574h0M492 574h0M726 574h0M123 590h0M141 590h0M132 607h0M402 607h0M465 623h0M861 623h0M186 640h0M276 640h0M456 640h0M744 640h0M213 689h0" stroke="#5DB3E8" stroke-width="9" stroke-linecap="round"/><path d="M870 46h0M888 46h0M924 46h0M942 46h0M861 62h0M933 62h0M888 79h0M906 79h0M942 79h0M843 95h0M861 95h0M933 95h0M852 112h0M888 112h0M924 112h0M942 112h0M861 128h0M897 128h0M915 128h0M942 145h0M951 161h0M888 178h0M906 178h0M879 194h0M915 194h0M933 194h0M879 227h0M915 227h0M924 244h0M942 244h0M879 260h0M915 260h0M888 277h0M906 277h0M924 277h0M861 293h0M879 293h0M915 293h0M852 310h0M870 310h0M807 326h0M843 326h0M879 326h0M897 326h0M951 326h0M834 343h0M906 343h0M924 343h0M942 343h0M807 359h0M897 359h0M915 359h0M951 359h0M816 376h0M852 376h0M789 392h0M933 392h0M708 409h0M717 425h0M942 442h0M825 458h0M879 458h0M672 475h0M681 491h0M825 491h0M618 508h0M663 524h0M897 524h0M933 524h0M546 541h0M744 541h0M555 557h0M753 557h0M609 590h0M672 607h0M834 607h0M888 607h0M681 623h0M771 623h0M897 623h0M780 640h0M429 656h0M447 656h0M465 656h0M915 656h0M951 656h0M456 673h0M510 673h0M834 673h0M393 689h0M447 689h0M483 689h0M501 689h0M366 706h0M420 706h0M456 706h0M492 706h0M924 706h0M942 706h0M321 722h0M357 722h0M393 722h0M429 722h0M807 722h0M321 755h0M339 755h0M375 755h0M411 755h0M312 772h0M456 772h0M474 772h0M321 788h0M366 805h0M420 805h0M456 838h0M474 838h0M375 854h0M411 854h0M465 854h0M483 854h0M438 871h0M447 887h0M456 904h0M474 904h0M492 937h0" stroke="#A466C0" stroke-width="9" stroke-linecap="round"/><use href="#ovl"/></g></g>
<clipPath id="cF"><rect x="1434.9" y="803.9" width="512.1" height="512.1"/></clipPath>
<g clip-path="url(#cF)"><rect x="1434.9" y="803.9" width="512.1" height="512.1" fill="#D4D2D5"/><g transform="translate(1434.9 803.9) scale(0.51210)"><use href="#fid"/></g><g transform="translate(1432.6 801.5) scale(0.51210)"><use href="#tis"/></g><g transform="translate(1432.6 801.5) scale(0.51210)"><path d="M885 66h0M948 83h0M813 99h0M831 99h0M885 99h0M921 99h0M750 116h0M768 116h0M804 116h0M948 116h0M759 132h0M777 132h0M795 132h0M813 132h0M831 132h0M750 149h0M786 149h0M876 149h0M912 149h0M759 165h0M777 165h0M903 165h0M624 182h0M750 182h0M768 182h0M786 182h0M804 182h0M822 182h0M840 182h0M858 182h0M876 182h0M894 182h0M912 182h0M930 182h0M597 198h0M615 198h0M651 198h0M759 198h0M813 198h0M849 198h0M867 198h0M921 198h0M570 215h0M606 215h0M624 215h0M642 215h0M660 215h0M822 215h0M858 215h0M894 215h0M579 231h0M633 231h0M651 231h0M669 231h0M849 231h0M867 231h0M903 231h0M921 231h0M552 248h0M570 248h0M606 248h0M624 248h0M642 248h0M660 248h0M678 248h0M696 248h0M930 248h0M948 248h0M561 264h0M579 264h0M615 264h0M633 264h0M651 264h0M669 264h0M687 264h0M705 264h0M552 281h0M570 281h0M642 281h0M660 281h0M768 281h0M822 281h0M840 281h0M894 281h0M561 297h0M579 297h0M597 297h0M633 297h0M651 297h0M741 297h0M795 297h0M813 297h0M552 314h0M570 314h0M588 314h0M624 314h0M732 314h0M750 314h0M786 314h0M399 330h0M417 330h0M687 330h0M705 330h0M723 330h0M741 330h0M759 330h0M795 330h0M849 330h0M921 330h0M282 347h0M318 347h0M354 347h0M372 347h0M624 347h0M642 347h0M660 347h0M678 347h0M768 347h0M804 347h0M840 347h0M930 347h0M309 363h0M381 363h0M417 363h0M435 363h0M453 363h0M489 363h0M597 363h0M615 363h0M633 363h0M651 363h0M669 363h0M759 363h0M813 363h0M831 363h0M336 380h0M390 380h0M426 380h0M444 380h0M480 380h0M570 380h0M606 380h0M642 380h0M678 380h0M732 380h0M768 380h0M786 380h0M435 396h0M597 396h0M615 396h0M633 396h0M651 396h0M687 396h0M795 396h0M849 396h0M867 396h0M903 396h0M462 413h0M534 413h0M552 413h0M570 413h0M624 413h0M642 413h0M660 413h0M750 413h0M786 413h0M858 413h0M435 429h0M507 429h0M525 429h0M561 429h0M597 429h0M633 429h0M651 429h0M723 429h0M759 429h0M885 429h0M921 429h0M498 446h0M534 446h0M570 446h0M606 446h0M624 446h0M660 446h0M732 446h0M930 446h0M111 462h0M201 462h0M237 462h0M255 462h0M309 462h0M525 462h0M561 462h0M633 462h0M741 462h0M813 462h0M849 462h0M885 462h0M903 462h0M48 479h0M84 479h0M336 479h0M480 479h0M516 479h0M552 479h0M588 479h0M678 479h0M696 479h0M750 479h0M768 479h0M840 479h0M930 479h0M75 495h0M111 495h0M147 495h0M183 495h0M273 495h0M309 495h0M327 495h0M525 495h0M543 495h0M561 495h0M633 495h0M669 495h0M687 495h0M705 495h0M777 495h0M849 495h0M921 495h0M939 495h0M102 512h0M120 512h0M138 512h0M192 512h0M246 512h0M282 512h0M444 512h0M660 512h0M732 512h0M786 512h0M840 512h0M858 512h0M948 512h0M93 528h0M147 528h0M165 528h0M201 528h0M255 528h0M273 528h0M453 528h0M543 528h0M561 528h0M615 528h0M669 528h0M831 528h0M921 528h0M102 545h0M138 545h0M264 545h0M318 545h0M336 545h0M408 545h0M480 545h0M552 545h0M588 545h0M606 545h0M624 545h0M660 545h0M750 545h0M768 545h0M822 545h0M948 545h0M111 561h0M129 561h0M219 561h0M417 561h0M453 561h0M507 561h0M525 561h0M615 561h0M633 561h0M651 561h0M687 561h0M795 561h0M120 578h0M228 578h0M264 578h0M300 578h0M372 578h0M426 578h0M498 578h0M570 578h0M660 578h0M678 578h0M696 578h0M714 578h0M732 578h0M822 578h0M876 578h0M165 594h0M201 594h0M237 594h0M273 594h0M291 594h0M327 594h0M381 594h0M399 594h0M435 594h0M525 594h0M633 594h0M669 594h0M741 594h0M777 594h0M921 594h0M138 611h0M192 611h0M228 611h0M246 611h0M264 611h0M300 611h0M408 611h0M462 611h0M498 611h0M606 611h0M678 611h0M696 611h0M750 611h0M768 611h0M786 611h0M804 611h0M165 627h0M237 627h0M525 627h0M615 627h0M831 627h0M849 627h0M903 627h0M156 644h0M210 644h0M264 644h0M300 644h0M534 644h0M624 644h0M660 644h0M714 644h0M750 644h0M804 644h0M822 644h0M840 644h0M876 644h0M930 644h0M165 660h0M399 660h0M453 660h0M471 660h0M525 660h0M543 660h0M723 660h0M741 660h0M777 660h0M813 660h0M831 660h0M921 660h0M408 677h0M462 677h0M480 677h0M642 677h0M750 677h0M768 677h0M894 677h0M912 677h0M948 677h0M363 693h0M399 693h0M417 693h0M435 693h0M471 693h0M705 693h0M831 693h0M885 693h0M939 693h0M354 710h0M372 710h0M498 710h0M732 710h0M768 710h0M786 710h0M840 710h0M912 710h0M930 710h0M345 726h0M417 726h0M435 726h0M723 726h0M813 726h0M867 726h0M318 743h0M336 743h0M372 743h0M444 743h0M714 743h0M768 743h0M786 743h0M804 743h0M858 743h0M876 743h0M894 743h0M948 743h0M399 759h0M453 759h0M705 759h0M777 759h0M831 759h0M921 759h0M939 759h0M300 776h0M318 776h0M462 776h0M840 776h0M930 776h0M948 776h0M309 792h0M381 792h0M399 792h0M453 792h0M471 792h0M777 792h0M795 792h0M831 792h0M867 792h0M885 792h0M903 792h0M921 792h0M372 809h0M390 809h0M408 809h0M462 809h0M786 809h0M858 809h0M948 809h0M345 825h0M417 825h0M435 825h0M795 825h0M831 825h0M921 825h0M408 842h0M426 842h0M480 842h0M498 842h0M822 842h0M435 858h0M471 858h0M489 858h0M507 858h0M372 875h0M390 875h0M408 875h0M426 875h0M462 875h0M399 891h0M435 891h0M507 891h0M390 908h0M426 908h0M480 908h0M399 924h0M417 924h0M426 941h0M435 957h0M453 957h0" stroke="#EC6B58" stroke-width="9" stroke-linecap="round"/><path d="M876 50h0M912 50h0M948 50h0M849 66h0M903 66h0M921 66h0M939 66h0M858 83h0M894 83h0M930 83h0M867 99h0M939 99h0M786 116h0M822 116h0M894 116h0M849 132h0M867 132h0M903 132h0M822 149h0M858 149h0M849 165h0M885 165h0M795 198h0M831 198h0M939 198h0M876 215h0M912 215h0M930 215h0M867 264h0M606 281h0M624 281h0M804 281h0M876 281h0M543 297h0M831 297h0M903 297h0M921 297h0M939 297h0M714 314h0M876 314h0M912 314h0M930 314h0M309 330h0M669 330h0M831 330h0M903 330h0M939 330h0M696 347h0M714 347h0M858 347h0M327 363h0M345 363h0M399 363h0M471 363h0M687 363h0M867 363h0M885 363h0M903 363h0M372 380h0M462 380h0M624 380h0M660 380h0M714 380h0M750 380h0M858 380h0M876 380h0M912 380h0M948 380h0M399 396h0M471 396h0M489 396h0M561 396h0M831 396h0M939 396h0M480 413h0M588 413h0M678 413h0M876 413h0M948 413h0M309 429h0M903 429h0M939 429h0M318 446h0M552 446h0M678 446h0M57 462h0M507 462h0M543 462h0M579 462h0M687 462h0M705 462h0M723 462h0M795 462h0M192 479h0M282 479h0M300 479h0M318 479h0M498 479h0M606 479h0M786 479h0M822 479h0M948 479h0M129 495h0M201 495h0M723 495h0M759 495h0M831 495h0M885 495h0M210 512h0M228 512h0M264 512h0M318 512h0M336 512h0M552 512h0M606 512h0M624 512h0M930 512h0M435 528h0M633 528h0M687 528h0M867 528h0M300 545h0M570 545h0M930 545h0M147 561h0M201 561h0M327 561h0M435 561h0M705 561h0M741 561h0M759 561h0M885 561h0M138 578h0M246 578h0M282 578h0M318 578h0M336 578h0M462 578h0M588 578h0M642 578h0M750 578h0M129 594h0M255 594h0M453 594h0M507 594h0M579 594h0M687 594h0M831 594h0M885 594h0M480 611h0M714 611h0M732 611h0M840 611h0M858 611h0M876 611h0M930 611h0M183 627h0M201 627h0M327 627h0M453 627h0M543 627h0M633 627h0M795 627h0M813 627h0M885 627h0M174 644h0M282 644h0M318 644h0M516 644h0M642 644h0M858 644h0M894 644h0M669 660h0M849 660h0M939 660h0M174 677h0M210 677h0M444 677h0M516 677h0M624 677h0M678 677h0M696 677h0M786 677h0M930 677h0M345 693h0M453 693h0M390 710h0M426 710h0M444 710h0M948 710h0M363 726h0M777 726h0M921 726h0M939 726h0M696 743h0M732 743h0M327 759h0M471 759h0M741 759h0M795 759h0M390 776h0M345 792h0M417 792h0M444 809h0M840 809h0M885 825h0M903 825h0M354 842h0M840 842h0M363 858h0M381 858h0M363 891h0M453 891h0M453 924h0M408 941h0M417 957h0" stroke="#A9C233" stroke-width="9" stroke-linecap="round"/><path d="M858 50h0M930 50h0M876 83h0M912 83h0M849 99h0M903 99h0M840 116h0M858 116h0M876 116h0M912 116h0M930 116h0M885 132h0M939 132h0M768 149h0M831 165h0M867 165h0M921 165h0M948 182h0M579 198h0M633 198h0M777 198h0M885 198h0M903 198h0M588 215h0M840 215h0M948 215h0M885 231h0M939 231h0M876 248h0M894 248h0M912 248h0M597 264h0M885 264h0M903 264h0M921 264h0M786 281h0M858 281h0M930 281h0M777 297h0M867 297h0M885 297h0M606 314h0M768 314h0M804 314h0M858 314h0M894 314h0M948 314h0M273 330h0M435 330h0M813 330h0M867 330h0M336 347h0M408 347h0M426 347h0M444 347h0M462 347h0M732 347h0M750 347h0M786 347h0M876 347h0M912 347h0M948 347h0M363 363h0M705 363h0M849 363h0M921 363h0M939 363h0M696 380h0M804 380h0M894 380h0M930 380h0M453 396h0M723 396h0M741 396h0M759 396h0M426 413h0M606 413h0M696 413h0M732 413h0M804 413h0M822 413h0M840 413h0M894 413h0M291 429h0M471 429h0M543 429h0M579 429h0M687 429h0M705 429h0M741 429h0M300 446h0M516 446h0M642 446h0M714 446h0M750 446h0M768 446h0M804 446h0M858 446h0M75 462h0M93 462h0M183 462h0M219 462h0M273 462h0M291 462h0M327 462h0M597 462h0M759 462h0M777 462h0M831 462h0M867 462h0M66 479h0M120 479h0M210 479h0M246 479h0M264 479h0M534 479h0M570 479h0M624 479h0M642 479h0M714 479h0M732 479h0M804 479h0M858 479h0M876 479h0M894 479h0M912 479h0M93 495h0M219 495h0M237 495h0M255 495h0M291 495h0M579 495h0M597 495h0M651 495h0M741 495h0M813 495h0M867 495h0M903 495h0M174 512h0M300 512h0M570 512h0M588 512h0M678 512h0M696 512h0M714 512h0M750 512h0M912 512h0M111 528h0M129 528h0M183 528h0M219 528h0M237 528h0M327 528h0M399 528h0M471 528h0M489 528h0M597 528h0M759 528h0M777 528h0M849 528h0M156 545h0M174 545h0M192 545h0M228 545h0M282 545h0M426 545h0M498 545h0M678 545h0M696 545h0M714 545h0M786 545h0M858 545h0M876 545h0M894 545h0M165 561h0M237 561h0M273 561h0M291 561h0M345 561h0M381 561h0M399 561h0M471 561h0M489 561h0M579 561h0M723 561h0M813 561h0M831 561h0M849 561h0M156 578h0M210 578h0M354 578h0M390 578h0M444 578h0M534 578h0M768 578h0M786 578h0M804 578h0M858 578h0M894 578h0M912 578h0M930 578h0M948 578h0M147 594h0M219 594h0M417 594h0M471 594h0M489 594h0M615 594h0M723 594h0M795 594h0M813 594h0M849 594h0M903 594h0M156 611h0M174 611h0M210 611h0M318 611h0M426 611h0M444 611h0M588 611h0M624 611h0M822 611h0M894 611h0M948 611h0M147 627h0M219 627h0M417 627h0M435 627h0M489 627h0M597 627h0M651 627h0M669 627h0M687 627h0M705 627h0M723 627h0M741 627h0M777 627h0M921 627h0M192 644h0M426 644h0M444 644h0M462 644h0M480 644h0M498 644h0M606 644h0M678 644h0M696 644h0M732 644h0M768 644h0M786 644h0M183 660h0M201 660h0M219 660h0M255 660h0M273 660h0M435 660h0M489 660h0M615 660h0M633 660h0M651 660h0M705 660h0M759 660h0M867 660h0M885 660h0M903 660h0M192 677h0M390 677h0M732 677h0M822 677h0M840 677h0M858 677h0M876 677h0M381 693h0M489 693h0M669 693h0M687 693h0M723 693h0M741 693h0M759 693h0M777 693h0M795 693h0M903 693h0M921 693h0M318 710h0M336 710h0M678 710h0M804 710h0M858 710h0M876 710h0M894 710h0M327 726h0M381 726h0M453 726h0M687 726h0M705 726h0M741 726h0M831 726h0M408 743h0M426 743h0M462 743h0M480 743h0M822 743h0M840 743h0M309 759h0M345 759h0M417 759h0M435 759h0M723 759h0M813 759h0M903 759h0M426 776h0M444 776h0M732 776h0M804 776h0M876 776h0M894 776h0M912 776h0M327 792h0M363 792h0M435 792h0M939 792h0M426 809h0M804 809h0M822 809h0M876 809h0M327 825h0M363 825h0M381 825h0M399 825h0M813 825h0M867 825h0M372 842h0M390 842h0M444 842h0M462 842h0M417 858h0M453 858h0M444 875h0M381 891h0M471 891h0M489 891h0M462 908h0M498 908h0M489 924h0M480 941h0" stroke="#6AD886" stroke-width="9" stroke-linecap="round"/><path d="M894 50h0M867 66h0M840 83h0M741 132h0M921 132h0M804 149h0M840 149h0M894 149h0M930 149h0M948 149h0M795 165h0M813 165h0M939 165h0M606 182h0M561 231h0M597 231h0M615 231h0M831 231h0M588 248h0M543 264h0M939 264h0M588 281h0M912 281h0M948 281h0M615 297h0M759 297h0M849 297h0M822 314h0M840 314h0M291 330h0M777 330h0M885 330h0M300 347h0M390 347h0M822 347h0M894 347h0M723 363h0M741 363h0M777 363h0M795 363h0M408 380h0M498 380h0M588 380h0M840 380h0M417 396h0M507 396h0M543 396h0M579 396h0M669 396h0M705 396h0M777 396h0M813 396h0M885 396h0M921 396h0M408 413h0M444 413h0M498 413h0M714 413h0M930 413h0M453 429h0M615 429h0M669 429h0M777 429h0M795 429h0M813 429h0M867 429h0M264 446h0M282 446h0M588 446h0M696 446h0M786 446h0M840 446h0M876 446h0M894 446h0M912 446h0M948 446h0M489 462h0M615 462h0M921 462h0M939 462h0M102 479h0M138 479h0M174 479h0M228 479h0M660 479h0M507 495h0M615 495h0M795 495h0M84 512h0M156 512h0M534 512h0M642 512h0M768 512h0M804 512h0M822 512h0M876 512h0M894 512h0M291 528h0M309 528h0M417 528h0M579 528h0M705 528h0M723 528h0M741 528h0M795 528h0M813 528h0M885 528h0M903 528h0M939 528h0M120 545h0M210 545h0M246 545h0M390 545h0M444 545h0M462 545h0M642 545h0M804 545h0M840 545h0M183 561h0M255 561h0M309 561h0M363 561h0M597 561h0M669 561h0M777 561h0M903 561h0M921 561h0M939 561h0M174 578h0M192 578h0M408 578h0M480 578h0M516 578h0M624 578h0M840 578h0M183 594h0M309 594h0M597 594h0M651 594h0M705 594h0M939 594h0M282 611h0M336 611h0M390 611h0M642 611h0M660 611h0M912 611h0M255 627h0M273 627h0M291 627h0M309 627h0M345 627h0M399 627h0M471 627h0M759 627h0M867 627h0M939 627h0M228 644h0M246 644h0M336 644h0M408 644h0M912 644h0M948 644h0M417 660h0M687 660h0M795 660h0M426 677h0M660 677h0M714 677h0M804 677h0M201 693h0M327 693h0M813 693h0M849 693h0M867 693h0M408 710h0M462 710h0M480 710h0M696 710h0M714 710h0M750 710h0M822 710h0M399 726h0M471 726h0M759 726h0M795 726h0M885 726h0M903 726h0M354 743h0M390 743h0M750 743h0M912 743h0M930 743h0M363 759h0M381 759h0M759 759h0M849 759h0M885 759h0M336 776h0M354 776h0M372 776h0M408 776h0M480 776h0M750 776h0M768 776h0M786 776h0M822 776h0M858 776h0M759 792h0M813 792h0M849 792h0M318 809h0M336 809h0M354 809h0M480 809h0M894 809h0M912 809h0M930 809h0M453 825h0M471 825h0M489 825h0M849 825h0M399 858h0M480 875h0M498 875h0M417 891h0M408 908h0M444 908h0M435 924h0M471 924h0M444 941h0M462 941h0" stroke="#5DB3E8" stroke-width="9" stroke-linecap="round"/><path d="M822 380h0M768 413h0M912 413h0M831 429h0M849 429h0M822 446h0M651 462h0M669 462h0M651 528h0M732 545h0M912 545h0M561 561h0M867 561h0M606 578h0M759 594h0M867 594h0M849 726h0M867 759h0" stroke="#A466C0" stroke-width="9" stroke-linecap="round"/><use href="#ovl"/></g></g>
<text x="251.5" y="849.8" font-size="25">T cells</text><text x="353.5" y="832.7" font-size="25">Fibroblasts</text><text x="91.0" y="952.9" font-size="25">Epithelial cells</text><text x="55.5" y="1211.9" font-size="25">Ciliated cells</text>
<text x="938.2" y="845.9" font-size="25">T cells</text><text x="1019.5" y="820.1" font-size="25">Fibroblasts</text><text x="799.3" y="953.5" font-size="25">Epithelial cells</text><text x="754.3" y="1206.6" font-size="25">Ciliated cells</text>
<text x="1634.8" y="845.9" font-size="25">T cells</text><text x="1714.9" y="832.1" font-size="25">Fibroblasts</text><text x="1487.9" y="927.4" font-size="25">Epithelial cells</text><text x="1438.0" y="1207.5" font-size="25">Ciliated cells</text>
<rect x="383.4" y="1018.5" width="19.3" height="21.8" rx="3.5" fill="#A57A7C" stroke="#fff" stroke-opacity=".85" stroke-width="1.6"/><text x="393.0" y="1037.0" font-size="21" text-anchor="middle" fill="#F2FAF8">0</text>
<rect x="444.7" y="1095.8" width="19.0" height="21.8" rx="3.5" fill="#6FB08E" stroke="#fff" stroke-opacity=".85" stroke-width="1.6"/><text x="454.2" y="1114.3" font-size="21" text-anchor="middle" fill="#F2FAF8">2</text>
<rect x="467.7" y="1086.4" width="19.3" height="22.4" rx="3.5" fill="#7E9A5E" stroke="#fff" stroke-opacity=".85" stroke-width="1.6"/><text x="477.4" y="1105.2" font-size="21" text-anchor="middle" fill="#F2FAF8">1</text>
<rect x="220.3" y="1062.2" width="19.3" height="21.8" rx="3.5" fill="#8C86B0" stroke="#fff" stroke-opacity=".85" stroke-width="1.6"/><text x="229.9" y="1080.7" font-size="21" text-anchor="middle" fill="#F2FAF8">4</text>
<rect x="240.1" y="1096.3" width="19.0" height="21.7" rx="3.5" fill="#5F95C5" stroke="#fff" stroke-opacity=".85" stroke-width="1.6"/><text x="249.6" y="1114.7" font-size="21" text-anchor="middle" fill="#F2FAF8">3</text>
<rect x="1065.5" y="945.6" width="26.0" height="29.9" rx="3.5" fill="#9A86A8" stroke="#fff" stroke-opacity=".85" stroke-width="1.6"/><text x="1078.5" y="970.3" font-size="27" text-anchor="middle" fill="#F2FAF8">3</text>
<rect x="967.2" y="1074.9" width="27.1" height="30.5" rx="3.5" fill="#C65A5A" stroke="#fff" stroke-opacity=".85" stroke-width="1.6"/><text x="980.8" y="1099.9" font-size="27" text-anchor="middle" fill="#F2FAF8">0</text>
<rect x="1079.3" y="1040.4" width="27.4" height="30.2" rx="3.5" fill="#7E9E5E" stroke="#fff" stroke-opacity=".85" stroke-width="1.6"/><text x="1093.0" y="1065.2" font-size="27" text-anchor="middle" fill="#F2FAF8">1</text>
<rect x="1173.2" y="1091.4" width="26.9" height="29.9" rx="3.5" fill="#8E8CB4" stroke="#fff" stroke-opacity=".85" stroke-width="1.6"/><text x="1186.7" y="1116.1" font-size="27" text-anchor="middle" fill="#F2FAF8">4</text>
<rect x="1135.9" y="1126.2" width="27.1" height="29.9" rx="3.5" fill="#68B58C" stroke="#fff" stroke-opacity=".85" stroke-width="1.6"/><text x="1149.5" y="1150.9" font-size="27" text-anchor="middle" fill="#F2FAF8">2</text>
<rect x="1689.3" y="1024.4" width="25.6" height="28.8" rx="3.5" fill="#8E63A8" stroke="#fff" stroke-opacity=".85" stroke-width="1.6"/><text x="1702.1" y="1048.2" font-size="26" text-anchor="middle" fill="#F2FAF8">4</text>
<rect x="1734.2" y="1041.3" width="26.1" height="29.8" rx="3.5" fill="#7E9E5E" stroke="#fff" stroke-opacity=".85" stroke-width="1.6"/><text x="1747.2" y="1065.6" font-size="26" text-anchor="middle" fill="#F2FAF8">1</text>
<rect x="1771.7" y="1041.3" width="26.5" height="29.8" rx="3.5" fill="#A88080" stroke="#fff" stroke-opacity=".85" stroke-width="1.6"/><text x="1785.0" y="1065.6" font-size="26" text-anchor="middle" fill="#F2FAF8">0</text>
<rect x="1768.9" y="1074.8" width="26.1" height="29.7" rx="3.5" fill="#5FA6CC" stroke="#fff" stroke-opacity=".85" stroke-width="1.6"/><text x="1782.0" y="1099.0" font-size="26" text-anchor="middle" fill="#F2FAF8">3</text>
<rect x="1740.1" y="1083.9" width="26.1" height="28.9" rx="3.5" fill="#6DB88E" stroke="#fff" stroke-opacity=".85" stroke-width="1.6"/><text x="1753.2" y="1107.7" font-size="26" text-anchor="middle" fill="#F2FAF8">2</text>
<text x="571.2" y="978.0" font-size="30">Ident</text><circle cx="588.7" cy="1006.8" r="3.3" fill="#C76565" stroke="#555" stroke-width=".8"/><text x="598.5" y="1017.6" font-size="28">0</text><circle cx="588.7" cy="1032.9" r="3.3" fill="#8C963F" stroke="#555" stroke-width=".8"/><text x="598.5" y="1043.3" font-size="28">1</text><circle cx="588.7" cy="1065.8" r="3.3" fill="#6DB47E" stroke="#555" stroke-width=".8"/><text x="598.5" y="1076.2" font-size="28">2</text><circle cx="588.7" cy="1098.2" r="3.3" fill="#69A0CC" stroke="#555" stroke-width=".8"/><text x="598.5" y="1108.8" font-size="28">3</text><circle cx="588.7" cy="1131.4" r="3.3" fill="#8D68A6" stroke="#555" stroke-width=".8"/><text x="598.5" y="1141.4" font-size="28">4</text>
<text x="1308.3" y="978.0" font-size="30">Ident</text><circle cx="1328.5" cy="1004.0" r="4.3" fill="#C76565" stroke="#555" stroke-width=".8"/><text x="1340.5" y="1013.0" font-size="28">0</text><circle cx="1328.5" cy="1038.4" r="4.3" fill="#8C963F" stroke="#555" stroke-width=".8"/><text x="1340.5" y="1046.7" font-size="28">1</text><circle cx="1328.5" cy="1068.9" r="4.3" fill="#6DB47E" stroke="#555" stroke-width=".8"/><text x="1340.5" y="1078.0" font-size="28">2</text><circle cx="1328.5" cy="1099.8" r="4.3" fill="#69A0CC" stroke="#555" stroke-width=".8"/><text x="1340.5" y="1109.0" font-size="28">3</text><circle cx="1328.5" cy="1133.8" r="4.3" fill="#8D68A6" stroke="#555" stroke-width=".8"/><text x="1340.5" y="1142.2" font-size="28">4</text>
<text x="1987.5" y="978.0" font-size="30">Ident</text><circle cx="2010.3" cy="1006.4" r="4.3" fill="#C76565" stroke="#555" stroke-width=".8"/><text x="2024.5" y="1014.5" font-size="28">0</text><circle cx="2010.3" cy="1036.2" r="4.3" fill="#8C963F" stroke="#555" stroke-width=".8"/><text x="2024.5" y="1044.5" font-size="28">1</text><circle cx="2010.3" cy="1065.3" r="4.3" fill="#6DB47E" stroke="#555" stroke-width=".8"/><text x="2024.5" y="1074.2" font-size="28">2</text><circle cx="2010.3" cy="1097.7" r="4.3" fill="#69A0CC" stroke="#555" stroke-width=".8"/><text x="2024.5" y="1107.4" font-size="28">3</text><circle cx="2010.3" cy="1129.8" r="4.3" fill="#8D68A6" stroke="#555" stroke-width=".8"/><text x="2024.5" y="1138.6" font-size="28">4</text>
<path d="M102.0 122.0V640.0H571.3" stroke="#000" stroke-width="2.1" fill="none"/>
<path d="M111.2 640.0v6.4" stroke="#000" stroke-width="2.1"/>
<path d="M215.8 640.0v6.4" stroke="#000" stroke-width="2.1"/>
<path d="M321.0 640.0v6.4" stroke="#000" stroke-width="2.1"/>
<path d="M426.4 640.0v6.4" stroke="#000" stroke-width="2.1"/>
<path d="M531.0 640.0v6.4" stroke="#000" stroke-width="2.1"/>
<path d="M102.0 246.0h-6.4" stroke="#000" stroke-width="2.1"/>
<path d="M102.0 385.0h-6.4" stroke="#000" stroke-width="2.1"/>
<path d="M102.0 524.0h-6.4" stroke="#000" stroke-width="2.1"/>
<text transform="translate(132.7 675.2) scale(1 1.050)" font-size="31" text-anchor="end" fill="#000">−5.0</text>
<text transform="translate(237.3 675.2) scale(1 1.050)" font-size="31" text-anchor="end" fill="#000">−2.5</text>
<text transform="translate(321.0 675.2) scale(1 1.050)" font-size="31" text-anchor="middle" fill="#000">0.0</text>
<text transform="translate(426.4 675.2) scale(1 1.050)" font-size="31" text-anchor="middle" fill="#000">2.5</text>
<text transform="translate(531.0 675.2) scale(1 1.050)" font-size="31" text-anchor="middle" fill="#000">5.0</text>
<text transform="translate(89.7 257.7) scale(1 1.050)" font-size="31" text-anchor="end" fill="#000">2.5</text>
<text transform="translate(89.7 396.7) scale(1 1.050)" font-size="31" text-anchor="end" fill="#000">0.0</text>
<text transform="translate(89.7 535.7) scale(1 1.050)" font-size="31" text-anchor="end" fill="#000">−2.5</text>
<text transform="translate(321.0 713.0) scale(1 1.050)" font-size="35" text-anchor="middle" fill="#000">Umap1</text>
<text transform="translate(25.8 383.9) rotate(-90) scale(1 1.050)" font-size="35" text-anchor="middle">Umap2</text>
<path d="M815.4 122.4V638.0H1301.4" stroke="#000" stroke-width="2.1" fill="none"/>
<path d="M863.2 638.0v6.4" stroke="#000" stroke-width="2.1"/>
<path d="M963.3 638.0v6.4" stroke="#000" stroke-width="2.1"/>
<path d="M1063.7 638.0v6.4" stroke="#000" stroke-width="2.1"/>
<path d="M1164.3 638.0v6.4" stroke="#000" stroke-width="2.1"/>
<path d="M1263.9 638.0v6.4" stroke="#000" stroke-width="2.1"/>
<path d="M815.4 145.3h-6.4" stroke="#000" stroke-width="2.1"/>
<path d="M815.4 270.8h-6.4" stroke="#000" stroke-width="2.1"/>
<path d="M815.4 395.7h-6.4" stroke="#000" stroke-width="2.1"/>
<path d="M815.4 520.9h-6.4" stroke="#000" stroke-width="2.1"/>
<text transform="translate(884.7 675.2) scale(1 1.050)" font-size="31" text-anchor="end" fill="#000">−5.0</text>
<text transform="translate(984.8 675.2) scale(1 1.050)" font-size="31" text-anchor="end" fill="#000">−2.5</text>
<text transform="translate(1063.7 675.2) scale(1 1.050)" font-size="31" text-anchor="middle" fill="#000">0.0</text>
<text transform="translate(1164.3 675.2) scale(1 1.050)" font-size="31" text-anchor="middle" fill="#000">2.5</text>
<text transform="translate(1263.9 675.2) scale(1 1.050)" font-size="31" text-anchor="middle" fill="#000">5.0</text>
<text transform="translate(797.7 157.0) scale(1 1.050)" font-size="31" text-anchor="end" fill="#000">5.0</text>
<text transform="translate(797.7 282.5) scale(1 1.050)" font-size="31" text-anchor="end" fill="#000">2.5</text>
<text transform="translate(797.7 407.4) scale(1 1.050)" font-size="31" text-anchor="end" fill="#000">0.0</text>
<text transform="translate(797.7 532.6) scale(1 1.050)" font-size="31" text-anchor="end" fill="#000">−2.5</text>
<text transform="translate(1053.4 711.6) scale(1 1.050)" font-size="35" text-anchor="middle" fill="#000">Umap1</text>
<text transform="translate(730.6 380.1) rotate(-90) scale(1 1.050)" font-size="35" text-anchor="middle">Umap2</text>
<path d="M1512.3 121.0V635.5H1986.5" stroke="#000" stroke-width="2.1" fill="none"/>
<path d="M1599.9 635.5v6.4" stroke="#000" stroke-width="2.1"/>
<path d="M1748.0 635.5v6.4" stroke="#000" stroke-width="2.1"/>
<path d="M1896.9 635.5v6.4" stroke="#000" stroke-width="2.1"/>
<path d="M1512.3 197.5h-6.4" stroke="#000" stroke-width="2.1"/>
<path d="M1512.3 353.6h-6.4" stroke="#000" stroke-width="2.1"/>
<path d="M1512.3 509.7h-6.4" stroke="#000" stroke-width="2.1"/>
<text transform="translate(1618.5 675.2) scale(1 1.050)" font-size="33.5" text-anchor="end" fill="#000">−10</text>
<text transform="translate(1748.0 675.2) scale(1 1.050)" font-size="33.5" text-anchor="middle" fill="#000">0</text>
<text transform="translate(1896.9 675.2) scale(1 1.050)" font-size="33.5" text-anchor="middle" fill="#000">10</text>
<text transform="translate(1499.7 210.1) scale(1 1.050)" font-size="33.5" text-anchor="end" fill="#000">5</text>
<text transform="translate(1499.7 366.2) scale(1 1.050)" font-size="33.5" text-anchor="end" fill="#000">0</text>
<text transform="translate(1499.7 522.3) scale(1 1.050)" font-size="33.5" text-anchor="end" fill="#000">−5</text>
<text transform="translate(1744.3 715.0) scale(1 1.050)" font-size="35" text-anchor="middle" fill="#000">Umap1</text>
<text transform="translate(1454.8 375.4) rotate(-90) scale(1 1.050)" font-size="35" text-anchor="middle">Umap2</text>
<path d="M265.4 266.0h0M254.9 399.8h0M327.3 283.3h0M307.5 291.0h0M248.2 397.0h0M305.9 340.2h0M277.4 219.2h0M362.4 273.8h0M276.4 291.9h0M347.8 256.5h0M286.4 393.8h0M312.7 376.5h0M276.5 246.4h0M293.8 249.2h0M385.7 271.0h0M324.2 234.1h0M320.1 291.0h0M300.5 223.7h0M258.5 383.4h0M292.7 261.4h0M268.7 269.6h0M339.6 281.7h0M263.4 358.2h0M306.5 385.6h0M360.7 243.4h0M292.9 361.7h0M315.7 257.7h0M307.9 237.5h0M346.0 264.8h0M374.9 333.4h0M331.2 254.6h0M317.0 323.9h0M280.6 372.1h0M297.7 348.1h0M325.2 275.3h0M298.5 228.1h0M266.6 388.7h0M288.2 349.2h0M294.2 315.1h0M284.5 223.8h0M286.7 257.5h0M258.9 360.5h0M282.4 294.7h0M367.0 283.9h0M334.3 248.1h0M350.1 359.6h0M285.5 290.0h0M365.9 329.7h0M305.2 353.7h0M283.0 219.0h0M368.1 337.6h0M256.7 376.2h0M344.2 292.7h0M282.2 228.9h0M382.0 299.0h0M334.2 305.1h0M304.3 317.5h0M279.2 324.7h0M321.6 262.4h0M301.7 252.3h0M286.6 238.7h0M346.0 350.8h0M275.7 260.8h0M317.3 303.5h0M380.4 283.8h0M290.0 381.2h0M322.2 369.7h0M265.4 350.0h0M329.8 306.8h0M269.6 357.3h0M288.7 308.4h0M337.9 262.8h0M276.9 239.1h0M267.9 344.0h0M265.3 374.8h0M289.0 248.8h0M295.3 325.7h0M295.4 384.6h0M325.0 341.9h0M314.2 314.9h0M327.2 226.8h0M343.2 244.4h0M305.9 250.1h0M358.0 299.3h0M282.5 348.9h0M317.2 298.5h0M290.8 302.1h0M284.4 303.1h0M341.5 337.9h0M284.6 329.9h0M382.9 311.0h0M337.1 272.9h0M341.8 303.9h0M295.8 332.0h0M302.5 321.3h0M324.7 293.2h0M373.5 325.1h0M256.8 391.1h0M278.0 229.9h0M313.4 326.3h0M274.0 330.3h0M322.6 360.1h0M353.5 234.1h0M298.8 246.0h0M356.2 238.7h0M272.0 273.0h0M346.1 299.5h0M373.3 340.4h0M265.2 366.5h0M291.2 370.4h0M330.6 230.9h0M322.3 378.6h0M256.9 404.3h0M269.0 303.8h0M267.8 326.4h0M283.5 354.3h0M297.1 240.3h0M291.4 241.7h0M267.3 381.8h0M311.4 243.2h0M366.8 292.6h0M272.4 397.7h0M310.2 331.2h0M298.2 284.3h0M290.1 214.3h0M340.6 267.3h0M281.0 315.0h0M279.3 329.5h0M335.0 343.3h0M294.4 269.1h0M285.6 370.3h0M350.9 316.9h0M335.3 283.6h0M312.2 287.1h0M308.0 303.6h0M285.2 274.8h0M349.0 325.8h0M374.9 267.9h0M278.6 214.8h0M337.2 251.3h0M371.3 344.4h0M378.4 254.6h0M337.3 295.1h0M290.2 313.8h0M329.7 264.0h0M378.8 328.5h0M332.1 362.1h0M289.4 229.6h0M320.8 333.6h0M323.2 348.0h0M330.2 279.5h0M351.2 264.1h0M356.4 274.9h0M308.0 268.4h0M311.4 347.6h0M356.1 286.1h0M323.3 248.2h0M356.7 260.9h0M360.1 306.6h0M256.2 364.0h0M279.3 301.1h0M274.7 252.7h0M353.9 345.0h0M370.4 266.1h0M282.4 279.6h0M294.1 373.8h0M369.5 248.3h0M284.6 215.1h0M241.4 401.4h0M342.4 228.9h0M275.2 376.3h0M304.6 232.0h0M266.8 353.9h0M315.1 233.6h0M280.9 247.2h0M279.7 224.5h0M301.2 326.9h0M343.2 347.2h0M321.6 325.3h0M299.9 276.8h0M298.1 290.9h0M301.5 240.0h0M278.2 338.3h0M344.1 278.1h0M336.9 325.3h0M368.0 317.1h0M275.2 342.2h0M351.5 289.6h0M318.9 338.7h0M311.0 361.5h0M338.7 464.9h0M339.1 476.0h0M388.3 412.5h0M279.3 540.8h0M328.3 500.9h0M397.5 369.5h0M314.8 543.1h0M389.0 387.1h0M276.2 415.3h0M267.5 438.5h0M386.5 474.7h0M327.0 379.4h0M368.2 458.8h0M331.3 535.6h0M379.0 393.0h0M365.6 440.7h0M338.5 412.3h0M313.0 434.8h0M284.1 485.5h0M259.8 399.3h0M372.1 420.4h0M305.1 413.2h0M391.8 380.1h0M284.3 453.1h0M384.7 495.9h0M325.2 440.8h0M319.3 502.6h0M387.8 437.5h0M315.5 487.3h0M407.2 402.2h0M313.3 506.4h0M378.5 443.5h0M328.6 461.7h0M392.7 451.3h0M330.5 555.9h0M324.8 468.1h0M337.0 541.4h0M364.0 522.9h0M365.6 481.8h0M270.1 408.6h0M378.1 484.2h0M370.9 466.2h0M398.2 392.0h0M306.8 474.0h0M296.7 417.7h0M396.0 482.3h0M336.9 452.4h0M258.7 427.0h0M395.6 416.6h0M341.3 442.2h0M349.2 440.5h0M386.2 404.1h0M346.0 431.2h0M296.5 535.1h0M299.6 516.3h0M358.7 370.8h0M396.6 375.8h0M351.4 399.6h0M364.6 508.5h0M300.1 406.4h0M293.8 559.3h0M366.6 394.1h0M345.3 393.9h0M405.0 431.4h0M288.0 480.1h0M265.9 462.2h0M373.8 454.6h0M365.4 385.2h0M299.4 436.5h0M377.6 469.2h0M408.1 380.5h0M332.4 550.1h0M351.6 479.0h0M393.7 410.0h0M308.5 567.8h0M306.6 458.9h0M292.1 523.3h0M280.4 533.3h0M345.1 381.0h0M343.8 533.4h0M351.3 461.5h0M272.4 487.2h0M310.0 442.4h0M306.4 545.3h0M398.5 465.7h0M201.4 277.2h0M140.6 260.8h0M148.0 277.1h0M203.1 236.6h0M153.5 245.5h0M160.2 357.7h0M200.1 338.4h0M213.3 313.9h0M158.5 328.5h0M204.9 218.6h0M214.6 204.7h0M217.3 336.7h0M235.9 163.5h0M161.2 292.3h0M221.0 314.6h0M252.5 230.7h0M251.9 259.4h0M161.0 324.6h0M230.7 184.9h0M198.7 267.9h0M242.4 301.3h0M153.7 298.6h0M366.5 222.7h0M303.3 161.6h0M381.7 211.6h0M364.3 237.4h0M374.0 218.6h0M364.8 224.2h0M334.0 188.3h0M363.8 222.5h0M369.7 175.0h0M381.1 197.8h0M382.1 222.8h0M288.3 165.1h0M317.1 168.9h0M346.0 215.2h0M250.8 299.7h0M270.1 285.6h0M251.5 202.2h0M263.3 307.1h0M248.3 273.3h0M232.2 258.5h0M271.0 248.6h0M261.0 254.0h0M248.1 219.9h0M249.0 308.2h0M261.7 230.9h0M236.2 227.9h0M265.7 251.9h0M250.9 260.0h0M279.5 216.5h0M271.9 212.7h0M244.0 239.3h0M236.8 267.4h0M273.4 261.9h0M250.1 320.0h0M253.3 324.1h0M249.4 282.6h0M262.3 242.6h0M257.1 284.7h0M264.8 268.0h0M253.5 295.2h0M247.6 209.2h0M238.9 272.3h0M259.7 196.5h0M268.6 230.8h0M140.0 405.0h0M142.0 412.0h0M145.0 418.0h0M160.0 420.0h0M150.0 470.0h0M300.0 580.0h0M437.0 592.0h0M442.0 575.0h0" stroke="#C76565" stroke-width="6.0" stroke-linecap="round" fill="none"/>
<path d="M466.5 597.8h0M497.2 498.3h0M512.1 470.3h0M490.7 570.0h0M487.0 553.9h0M515.0 457.1h0M513.7 477.9h0M474.2 588.5h0M511.3 533.2h0M485.9 427.2h0M486.2 546.9h0M512.8 520.5h0M484.9 502.0h0M489.9 597.8h0M466.1 614.3h0M478.1 588.7h0M478.4 535.7h0M491.2 427.5h0M480.8 572.9h0M476.9 543.1h0M507.6 496.3h0M480.0 568.3h0M490.4 505.2h0M503.7 477.0h0M522.4 521.7h0M504.0 517.3h0M490.7 589.7h0M475.1 592.9h0M489.3 486.1h0M482.3 436.6h0M466.0 549.3h0M506.1 484.5h0M486.5 586.5h0M493.6 451.9h0M518.6 551.0h0M477.3 575.6h0M498.9 583.9h0M491.0 564.5h0M519.9 517.9h0M500.3 458.9h0M471.6 547.1h0M521.6 471.0h0M516.9 446.8h0M507.9 446.4h0M501.4 541.5h0M520.1 527.6h0M514.2 573.6h0M509.9 463.8h0M509.4 568.4h0M517.7 441.0h0M524.9 472.7h0M534.5 522.6h0M456.5 595.4h0M514.9 443.8h0M481.8 601.3h0M531.4 475.3h0M525.3 464.8h0M463.8 602.2h0M508.0 540.6h0M522.1 511.4h0M530.5 509.8h0M473.9 608.4h0M521.7 498.0h0M489.3 461.3h0M518.2 500.0h0M505.4 450.4h0M503.7 575.0h0M474.0 562.3h0M488.9 580.1h0M516.0 515.0h0M491.2 534.0h0M475.9 506.2h0M479.4 583.7h0M496.9 552.6h0M472.6 533.8h0M506.6 506.6h0M503.4 584.9h0M528.7 532.3h0M530.0 480.4h0M510.0 547.7h0M490.7 514.5h0M521.4 450.2h0M507.9 564.4h0M464.7 585.3h0M502.0 469.3h0M483.8 510.9h0M490.7 575.3h0M524.4 442.5h0M486.6 441.3h0M492.7 481.6h0M462.0 606.7h0M497.0 571.4h0M534.8 513.8h0M499.3 533.2h0M478.5 529.8h0M490.4 593.5h0M515.2 544.5h0M523.4 563.5h0M486.2 537.6h0M487.3 445.2h0M519.4 476.5h0M507.4 579.2h0M466.1 564.0h0M490.4 455.4h0M492.9 518.8h0M494.8 444.1h0M496.8 464.9h0M481.8 441.6h0M481.5 450.1h0M495.0 426.7h0M483.9 561.0h0M533.8 502.1h0M479.2 467.5h0M521.6 535.8h0M497.0 475.5h0M481.4 546.6h0M463.2 577.8h0M502.6 465.1h0M503.4 561.7h0M490.9 501.2h0M532.7 529.9h0M462.6 590.1h0M499.4 560.6h0M517.3 555.4h0M495.8 493.8h0M526.3 560.8h0M530.6 513.6h0M485.0 492.6h0M536.1 551.9h0M469.9 561.3h0M484.1 472.7h0M464.6 559.8h0M478.6 476.5h0M532.7 557.0h0M480.5 498.6h0M510.0 573.5h0M515.3 538.0h0M497.8 511.0h0M502.3 485.9h0M497.8 576.2h0M494.7 587.4h0M502.2 497.8h0M535.3 535.4h0M491.8 471.5h0M514.6 432.9h0M531.8 537.8h0M528.1 541.5h0M486.9 527.0h0M544.1 531.6h0M499.2 528.8h0M515.9 525.1h0M477.9 495.1h0M476.7 558.8h0M471.8 530.0h0M470.7 585.6h0M493.1 527.9h0M486.6 450.7h0M475.8 605.1h0M509.4 474.3h0M468.0 589.3h0M521.9 552.6h0M466.7 573.3h0M462.0 568.3h0M494.3 508.6h0M506.0 557.8h0M486.2 475.6h0M537.9 545.8h0M503.2 571.4h0M491.7 585.4h0M466.9 545.4h0M518.4 480.6h0M543.4 546.1h0M538.8 501.4h0M475.5 568.2h0M500.0 501.0h0M473.9 577.6h0M511.0 508.1h0M471.5 605.0h0M511.7 526.9h0M495.9 469.3h0M485.3 517.2h0M506.6 525.0h0M517.8 464.2h0M523.7 488.5h0M508.9 457.6h0M506.1 545.8h0M524.0 479.4h0M502.0 427.2h0M529.0 463.0h0M479.9 551.1h0M528.4 545.4h0M497.5 564.4h0M519.2 460.6h0M525.0 459.0h0M484.8 487.6h0M525.0 533.8h0M466.2 568.0h0M479.2 521.5h0M480.9 594.2h0M527.0 557.0h0M485.8 459.1h0M457.3 584.6h0M484.3 523.6h0M488.0 600.8h0M467.9 594.5h0M513.4 439.4h0M477.9 525.5h0M535.1 489.1h0M502.8 551.1h0M505.7 454.4h0M530.2 562.5h0M494.4 567.9h0M459.2 603.9h0M500.3 580.0h0M520.0 503.7h0M512.1 580.5h0M541.2 551.0h0M499.1 547.6h0M504.1 521.0h0M543.4 515.4h0M459.2 554.9h0M436.1 566.6h0M369.8 561.0h0M354.9 527.5h0M450.8 575.5h0M423.5 570.7h0M465.8 545.5h0M424.7 534.0h0M325.6 559.5h0M414.7 491.5h0M367.3 510.3h0M431.2 574.0h0M456.8 585.7h0M340.7 535.0h0M332.4 561.5h0M426.2 511.9h0M414.2 501.8h0M436.2 444.4h0M351.2 559.3h0M470.5 483.9h0M421.9 486.8h0M370.4 539.7h0M462.6 519.9h0M362.5 533.5h0M440.7 498.5h0M443.0 594.4h0M378.7 555.1h0M433.2 504.2h0M445.6 572.4h0M431.2 590.9h0M424.4 442.8h0M363.0 522.4h0M450.4 533.5h0M475.2 470.2h0M460.8 478.0h0M422.7 551.9h0M420.6 547.2h0M402.6 512.5h0M461.6 510.9h0M444.2 445.7h0M429.8 441.8h0M425.1 482.3h0M382.7 526.9h0M408.6 498.5h0M441.6 523.9h0M445.1 530.9h0M446.4 590.2h0M441.0 554.1h0M459.8 488.8h0M430.5 498.5h0M456.5 566.9h0M409.1 490.6h0M447.1 479.6h0M448.5 522.6h0M408.9 524.6h0M427.2 544.0h0M448.0 554.0h0M384.7 513.0h0M429.1 507.5h0M433.7 515.0h0M450.6 492.6h0M409.6 506.3h0M427.4 528.7h0M455.3 577.7h0M365.0 562.6h0M377.1 535.8h0M436.6 609.9h0M469.7 471.6h0M359.7 557.0h0M431.0 487.9h0M436.2 549.6h0M453.7 499.5h0M465.9 505.4h0M439.9 536.0h0M475.8 483.3h0M476.0 406.0h0M490.0 404.0h0M500.0 415.0h0" stroke="#8C963F" stroke-width="6.0" stroke-linecap="round" fill="none"/>
<path d="M246.7 450.3h0M302.7 569.1h0M270.9 465.7h0M254.5 551.9h0M305.3 557.3h0M249.0 456.0h0M241.9 469.4h0M287.7 548.3h0M277.4 498.3h0M263.8 547.1h0M250.9 515.9h0M303.1 553.2h0M248.8 521.7h0M263.9 407.1h0M298.4 543.4h0M263.7 433.4h0M258.5 411.9h0M249.6 444.5h0M241.2 475.2h0M293.3 540.3h0M246.6 435.4h0M269.8 497.3h0M257.9 537.8h0M256.9 546.1h0M279.5 406.4h0M258.8 551.2h0M285.2 419.1h0M282.7 517.9h0M270.9 429.2h0M277.3 445.9h0M255.4 527.5h0M255.8 521.7h0M255.7 442.8h0M241.6 432.0h0M262.7 459.0h0M252.2 508.8h0M239.6 426.5h0M272.3 556.8h0M245.7 414.2h0M251.2 534.9h0M284.5 573.3h0M285.0 542.9h0M309.6 565.2h0M257.5 500.4h0M274.8 396.6h0M283.7 402.8h0M242.5 453.2h0M256.6 438.8h0M245.9 501.4h0M248.3 431.0h0M282.9 500.4h0M284.4 467.0h0M260.2 511.9h0M249.9 558.6h0M260.1 572.6h0M259.0 465.6h0M239.0 411.9h0M260.2 562.5h0M258.1 515.9h0M254.6 540.3h0M252.1 487.2h0M246.1 536.7h0M243.2 404.8h0M280.1 414.9h0M272.0 411.9h0M273.6 449.5h0M298.7 571.1h0M277.8 505.0h0M280.2 553.1h0M253.9 564.7h0M281.4 522.2h0M261.5 449.1h0M271.6 453.4h0M244.9 474.7h0M261.2 469.2h0M237.2 436.5h0M269.5 533.7h0M246.0 543.6h0M267.9 507.9h0M273.5 491.7h0M291.5 563.8h0M277.8 559.5h0M307.4 569.1h0M265.2 558.2h0M236.4 441.8h0M253.5 473.8h0M261.1 441.3h0M273.0 420.6h0M246.9 483.9h0M263.7 533.5h0M253.7 413.0h0M266.8 468.6h0M250.1 412.5h0M258.4 406.7h0M273.2 525.1h0M289.9 415.1h0M265.0 463.5h0M255.4 434.4h0M275.3 460.8h0M259.7 400.3h0M285.3 426.3h0M259.2 474.2h0M247.4 407.2h0M272.9 479.5h0M326.4 568.2h0M260.2 425.7h0M243.7 442.8h0M282.6 452.2h0M272.9 416.5h0M259.6 484.8h0M250.2 539.7h0M281.1 420.3h0M296.2 564.1h0M277.2 517.2h0M259.5 480.9h0M258.8 568.0h0M271.0 515.4h0M237.4 462.3h0M252.0 544.0h0M262.1 476.7h0M249.5 438.3h0M250.7 419.7h0M265.4 447.0h0M279.1 490.3h0M242.7 528.4h0M278.0 568.1h0M238.7 419.5h0M277.6 470.7h0M280.9 426.6h0M285.6 398.2h0M273.8 568.2h0M255.6 532.9h0M266.6 441.0h0M262.8 523.0h0M270.2 489.0h0M285.3 441.5h0M262.6 537.5h0M240.4 422.7h0M258.2 447.3h0M299.5 557.3h0M256.5 451.0h0M268.1 524.8h0M240.8 504.7h0M288.9 422.2h0M283.5 430.6h0M289.7 460.3h0M242.4 464.7h0M268.4 480.8h0M274.0 475.4h0M282.9 509.6h0M264.3 401.7h0M248.5 478.9h0M240.4 446.8h0M279.7 455.8h0M262.3 528.3h0M284.6 567.2h0M270.6 439.6h0M278.9 542.9h0M258.9 558.7h0M278.1 509.4h0M257.5 456.3h0M269.3 399.7h0M319.3 566.7h0M267.7 552.3h0M290.0 542.7h0M280.5 463.5h0M254.6 493.4h0M273.0 561.3h0M287.8 556.8h0M284.2 411.6h0M289.3 426.6h0M260.7 430.8h0M251.9 468.8h0M268.2 485.8h0M254.3 481.3h0M191.2 413.0h0M203.0 403.6h0M184.5 440.7h0M212.7 447.4h0M201.1 379.1h0M228.3 506.9h0M179.7 489.5h0M187.4 430.8h0M199.3 495.3h0M159.2 442.8h0M228.5 518.0h0M198.8 449.2h0M233.0 519.7h0M192.0 465.7h0M179.3 472.2h0M236.1 491.1h0M191.7 436.9h0M182.9 485.8h0M222.0 424.1h0M181.3 446.6h0M197.8 426.8h0M159.4 418.4h0M150.6 424.7h0M216.9 505.5h0M182.8 394.5h0M230.5 511.4h0M214.4 489.5h0M187.6 447.2h0M169.8 419.2h0M214.2 409.0h0M211.7 383.9h0M201.4 457.9h0M231.4 484.4h0M237.4 530.1h0M234.7 477.3h0M222.0 469.1h0M185.6 496.5h0M200.8 506.9h0M238.6 542.4h0M205.3 434.0h0M181.9 425.6h0M222.2 523.4h0M192.9 426.7h0M235.4 392.7h0M236.2 512.0h0M221.2 396.2h0M230.4 456.2h0M216.2 423.4h0M215.7 416.0h0M209.1 427.2h0M186.8 479.2h0M224.2 512.3h0M191.3 399.0h0M218.4 403.6h0M207.4 444.6h0M232.5 384.1h0M190.5 461.0h0M224.8 399.3h0M178.0 407.0h0M236.1 461.9h0M234.4 417.1h0M240.2 514.5h0M206.8 472.3h0M223.9 498.7h0M171.2 443.1h0M231.8 443.1h0M198.7 433.6h0M157.2 428.3h0M206.7 477.7h0M237.9 499.3h0M229.5 496.6h0M199.2 414.4h0M214.9 378.3h0M213.3 389.9h0M171.5 404.2h0M209.0 406.5h0M216.2 475.6h0M201.3 477.2h0M185.4 474.2h0M186.4 419.9h0M225.7 420.7h0M153.1 436.7h0M174.9 435.4h0M234.2 503.0h0M187.0 407.4h0M177.9 396.1h0M195.0 407.8h0M210.6 454.7h0M209.8 394.2h0M233.5 378.6h0M166.8 448.5h0M210.7 417.4h0M210.6 465.7h0M224.3 429.7h0M212.2 501.5h0M229.7 490.7h0M215.3 398.4h0M202.6 417.4h0M172.2 467.0h0M194.4 452.1h0M220.5 502.6h0M195.1 444.4h0M173.5 449.2h0M165.9 458.0h0M180.1 432.2h0M209.1 497.7h0M228.2 531.6h0M188.0 452.6h0M228.6 436.7h0M220.7 444.3h0M258.0 390.0h0M280.0 372.0h0M300.0 378.0h0M310.0 395.0h0M320.0 385.0h0M325.0 565.0h0M330.0 572.0h0M173.0 339.0h0M188.0 330.0h0M228.0 356.0h0M235.0 339.0h0M254.0 296.0h0M283.0 341.0h0M303.0 361.0h0M328.0 367.0h0M141.0 345.0h0M200.0 365.0h0M215.0 372.0h0M160.0 360.0h0" stroke="#6DB47E" stroke-width="6.0" stroke-linecap="round" fill="none"/>
<path d="M226.2 166.0h0M207.8 236.3h0M189.9 347.0h0M214.4 243.8h0M259.6 218.1h0M171.2 344.4h0M150.7 288.1h0M224.3 237.9h0M231.0 251.2h0M172.2 289.1h0M194.5 220.5h0M249.3 316.3h0M160.9 286.4h0M238.8 217.7h0M188.9 330.2h0M146.1 265.9h0M244.5 286.1h0M262.3 223.9h0M233.4 291.2h0M214.8 258.0h0M197.8 307.9h0M131.4 316.9h0M253.7 216.9h0M183.7 309.0h0M131.2 332.9h0M184.5 357.7h0M166.4 248.2h0M179.3 360.7h0M159.2 264.9h0M216.3 211.6h0M181.0 284.5h0M204.5 296.8h0M230.3 161.6h0M184.7 244.3h0M138.3 300.8h0M220.3 184.2h0M162.2 231.9h0M196.5 264.7h0M176.7 212.1h0M206.5 183.8h0M260.3 315.6h0M163.6 236.6h0M148.5 333.8h0M207.2 335.5h0M253.1 326.1h0M158.1 272.8h0M163.3 314.7h0M256.7 263.6h0M242.2 263.3h0M150.4 337.9h0M175.1 340.7h0M238.1 189.4h0M145.2 346.9h0M178.0 280.2h0M142.8 366.9h0M178.5 258.5h0M202.3 276.2h0M192.4 192.5h0M149.4 262.2h0M238.2 282.1h0M174.1 273.0h0M210.9 336.7h0M138.7 283.0h0M245.7 270.4h0M211.9 330.9h0M220.1 269.9h0M204.0 314.8h0M194.3 276.5h0M273.0 210.9h0M146.5 320.4h0M227.7 182.9h0M157.0 377.1h0M185.7 265.5h0M147.6 252.1h0M204.5 230.0h0M210.7 254.3h0M128.1 335.5h0M253.2 210.6h0M213.3 316.6h0M135.1 354.0h0M194.6 230.0h0M206.3 205.8h0M171.8 221.8h0M243.7 218.2h0M202.0 191.3h0M253.2 252.3h0M201.2 348.8h0M184.8 270.2h0M176.7 348.3h0M235.2 301.2h0M186.7 232.0h0M133.1 326.3h0M261.5 309.5h0M168.8 258.8h0M164.0 379.3h0M171.4 234.1h0M197.9 269.2h0M154.0 269.7h0M215.7 275.6h0M242.2 306.3h0M184.3 226.8h0M128.7 349.0h0M264.9 299.1h0M144.1 274.2h0M231.4 314.9h0M138.5 349.1h0M211.4 299.2h0M222.3 311.9h0M240.0 209.1h0M238.8 197.8h0M201.0 240.4h0M198.6 312.6h0M244.9 296.6h0M241.1 221.6h0M230.2 218.4h0M204.7 260.1h0M193.9 213.1h0M155.5 288.1h0M253.4 270.6h0M264.1 317.3h0M158.9 364.0h0M172.5 350.2h0M266.5 218.1h0M179.6 251.3h0M167.6 373.0h0M237.3 160.5h0M239.3 256.8h0M169.5 325.9h0M278.5 211.0h0M227.1 220.8h0M155.1 365.9h0M201.5 201.4h0M194.0 182.1h0M242.1 247.6h0M188.2 274.3h0M185.9 255.6h0M225.7 332.1h0M195.1 280.9h0M159.1 369.3h0M223.9 316.2h0M205.9 288.4h0M184.0 202.2h0M201.7 310.4h0M189.2 210.3h0M176.0 249.5h0M231.3 196.1h0M202.8 197.8h0M277.5 223.4h0M157.3 331.0h0M169.1 377.0h0M157.6 248.6h0M155.9 382.3h0M271.3 227.6h0M151.5 373.1h0M228.4 239.4h0M166.6 232.9h0M181.6 369.2h0M152.7 236.0h0M187.7 343.4h0M163.8 320.5h0M172.5 214.7h0M268.9 300.7h0M183.8 208.8h0M190.7 267.0h0M219.2 227.2h0M247.3 167.6h0M153.4 329.2h0M235.7 255.8h0M228.4 177.7h0M212.7 238.1h0M146.3 360.7h0M214.6 226.9h0M251.5 305.3h0M197.9 345.1h0M271.1 237.9h0M260.8 256.3h0M163.4 335.2h0M217.4 297.3h0M156.7 237.1h0M162.6 292.4h0M226.4 197.4h0M249.4 280.1h0M185.2 280.6h0M224.4 170.5h0M148.0 315.4h0M187.5 216.6h0M171.9 284.5h0M195.7 187.6h0M139.2 266.3h0M270.4 241.7h0M247.9 201.9h0M186.7 351.6h0M156.7 244.5h0M204.9 240.6h0M218.0 280.6h0M222.4 222.1h0M189.2 288.4h0M190.1 306.7h0M193.5 253.8h0M200.3 205.0h0M243.1 186.7h0M203.0 225.1h0M147.6 373.2h0M140.2 275.9h0M261.9 281.8h0M138.5 386.8h0M222.8 243.2h0M249.8 212.1h0M179.6 332.0h0M241.1 160.2h0M215.8 307.8h0M220.6 252.3h0M216.3 197.6h0M221.9 262.5h0M143.3 373.3h0M212.0 232.6h0M225.4 255.1h0M186.9 205.6h0M153.7 294.5h0M203.1 302.5h0M247.4 320.2h0M122.7 351.2h0M175.6 328.4h0M236.0 212.4h0M248.3 274.1h0M164.3 302.6h0M241.5 227.0h0M197.1 350.0h0M191.9 322.4h0M213.3 222.4h0M155.7 298.0h0M134.2 367.1h0M138.8 371.5h0M233.6 325.4h0M180.1 344.7h0M132.3 356.8h0M223.1 217.5h0M243.3 197.8h0M258.4 296.9h0M191.8 334.0h0M177.4 317.6h0M208.1 200.6h0M200.6 339.7h0M163.5 375.0h0M234.0 268.1h0M134.7 337.6h0M222.5 233.9h0M159.2 259.2h0M207.1 329.6h0M177.7 227.0h0M146.6 350.9h0M228.0 326.6h0M141.9 259.4h0M138.1 379.5h0M239.5 252.9h0M153.2 301.7h0M185.8 338.4h0M144.5 293.4h0M186.7 326.4h0M172.0 299.3h0M222.8 208.6h0M189.7 257.8h0M221.5 246.8h0M151.1 305.6h0M246.7 241.9h0M208.6 320.7h0M155.4 312.8h0M184.7 331.6h0M165.8 244.5h0M189.2 316.1h0M157.7 326.5h0M156.9 340.9h0M142.5 334.9h0M251.7 300.8h0M178.4 301.8h0M209.8 178.6h0M255.6 233.7h0M258.3 212.8h0M170.2 263.6h0M190.5 301.5h0M227.6 235.5h0M227.0 208.6h0M159.2 334.8h0M219.4 336.0h0M210.8 212.1h0M224.0 301.2h0M203.7 264.9h0M176.1 355.3h0M180.5 262.4h0M155.5 253.0h0M189.5 281.5h0M254.6 245.5h0M202.6 213.8h0M267.8 295.4h0M228.8 258.4h0M278.3 263.4h0M286.1 292.8h0M270.3 233.6h0M279.3 310.0h0M285.8 254.9h0M266.2 274.3h0M288.3 233.6h0M271.4 221.2h0M270.9 259.0h0M267.6 250.6h0M271.6 265.4h0M265.3 244.9h0M290.9 245.7h0M281.1 304.5h0M284.7 269.1h0M278.8 292.1h0M284.6 246.7h0M272.9 320.5h0M277.9 248.2h0M286.8 280.1h0M270.0 243.0h0M274.4 307.9h0" stroke="#69A0CC" stroke-width="6.0" stroke-linecap="round" fill="none"/>
<path d="M281.9 149.3h0M357.4 235.2h0M342.3 181.8h0M363.5 222.7h0M330.4 171.0h0M297.2 187.0h0M263.8 157.3h0M362.0 202.0h0M375.7 189.4h0M311.3 155.7h0M340.8 166.5h0M278.1 147.2h0M350.4 169.4h0M352.2 164.0h0M349.6 229.5h0M338.8 215.1h0M305.6 202.0h0M314.6 212.0h0M305.0 208.8h0M339.0 186.6h0M379.1 222.5h0M301.1 205.0h0M383.2 227.1h0M335.3 175.9h0M306.8 212.7h0M361.6 173.4h0M312.6 203.1h0M362.7 232.6h0M367.2 224.7h0M303.0 154.0h0M336.1 212.0h0M318.0 165.9h0M359.6 190.7h0M357.1 168.5h0M371.5 196.8h0M319.5 203.4h0M282.9 164.5h0M310.0 196.3h0M369.1 193.3h0M363.0 240.0h0M291.1 149.4h0M269.4 150.7h0M334.9 184.6h0M291.5 201.0h0M315.9 161.3h0M287.0 149.5h0M291.4 180.2h0M373.7 234.3h0M358.9 215.2h0M345.0 175.0h0M334.1 219.9h0M272.2 177.4h0M291.5 157.9h0M320.1 162.2h0M369.1 232.7h0M276.6 189.5h0M366.0 207.2h0M316.4 179.0h0M363.6 192.5h0M338.8 159.7h0M349.7 199.9h0M292.7 186.0h0M278.6 172.2h0M365.7 178.4h0M280.2 193.8h0M319.6 173.7h0M291.6 165.4h0M351.3 174.4h0M361.5 179.1h0M364.7 197.3h0M282.5 188.3h0M336.3 194.2h0M352.1 185.7h0M366.0 230.3h0M369.8 171.8h0M305.5 161.7h0M315.5 196.2h0M380.3 194.1h0M324.1 197.6h0M282.0 155.8h0M347.8 164.8h0M332.2 196.9h0M369.5 215.9h0M321.6 194.7h0M277.5 201.8h0M308.3 186.9h0M357.7 178.8h0M380.7 237.2h0M378.1 207.7h0M340.5 171.7h0M325.0 188.2h0M297.7 209.1h0M293.0 191.4h0M326.8 160.2h0M274.6 158.6h0M295.5 169.5h0M331.4 209.4h0M287.0 195.9h0M329.7 193.8h0M279.0 152.2h0M369.7 188.8h0M266.7 183.7h0M272.7 167.7h0M380.9 218.0h0M278.5 178.7h0M352.8 218.5h0M355.5 192.2h0M356.3 203.1h0M331.6 186.6h0M358.6 231.1h0M316.4 190.5h0M307.7 177.2h0M282.3 175.5h0M375.9 177.4h0M346.0 183.8h0M344.9 197.1h0M271.4 182.4h0M314.8 206.8h0M372.7 213.2h0M339.0 204.7h0M297.8 213.3h0M366.0 203.1h0M292.7 209.0h0M271.5 162.4h0M349.9 180.3h0M394.0 271.0h0M413.0 283.0h0M419.0 290.0h0M419.0 295.0h0M424.0 302.0h0M431.0 323.0h0M440.0 326.0h0M469.0 374.0h0M483.0 393.0h0M290.0 300.0h0M350.0 310.0h0M316.0 210.0h0M300.0 236.0h0" stroke="#8D68A6" stroke-width="6.0" stroke-linecap="round" fill="none"/>
<path d="M1019.1 498.3h0M1114.6 504.7h0M1139.8 528.6h0M1017.6 529.2h0M1134.5 530.0h0M1083.3 543.5h0M1109.5 556.8h0M1154.6 494.2h0M1061.4 593.5h0M1034.0 525.6h0M1085.0 611.6h0M1026.3 593.4h0M1099.1 604.2h0M1036.4 566.1h0M1106.3 592.3h0M1095.0 549.6h0M1017.5 544.5h0M991.1 512.5h0M1015.7 581.3h0M1018.2 517.9h0M1085.8 508.3h0M1102.6 505.7h0M1151.8 516.3h0M1050.6 497.2h0M1045.0 478.1h0M1025.7 474.6h0M1013.9 578.6h0M1032.7 586.2h0M1112.9 563.1h0M1077.0 495.2h0M998.8 505.5h0M1154.4 514.6h0M1032.9 545.5h0M1120.6 513.1h0M1088.6 562.0h0M988.6 499.1h0M1017.7 477.7h0M1121.4 534.6h0M1047.7 585.5h0M1042.1 606.9h0M1042.7 560.6h0M1028.7 574.9h0M1033.5 530.2h0M1110.7 590.5h0M1008.3 493.1h0M1020.9 581.5h0M1102.0 574.0h0M1125.5 502.2h0M1045.6 556.8h0M1029.4 585.6h0M1021.0 533.1h0M1100.2 526.9h0M1098.2 589.7h0M1103.1 595.7h0M1100.6 583.2h0M1130.9 555.9h0M1077.0 491.4h0M1025.2 480.2h0M1003.2 525.7h0M1035.0 551.1h0M1129.1 507.4h0M1017.4 555.1h0M1022.4 497.8h0M1049.5 518.7h0M1106.7 546.3h0M1041.5 489.7h0M1003.9 573.3h0M1022.9 545.4h0M1030.5 540.1h0M1071.8 506.6h0M1004.3 529.7h0M1126.1 488.0h0M1078.2 587.9h0M1083.9 519.0h0M1068.7 534.4h0M1131.3 559.6h0M1140.1 519.9h0M1075.2 500.9h0M1055.0 577.8h0M1068.2 530.4h0M1128.8 530.6h0M1019.3 538.5h0M1037.4 505.7h0M1119.4 519.3h0M1093.5 512.4h0M1119.8 572.2h0M1071.8 591.3h0M1121.4 555.3h0M986.9 505.1h0M1053.9 571.5h0M1147.0 507.8h0M1027.4 485.6h0M1041.6 482.7h0M1143.9 503.8h0M1118.9 497.8h0M1031.2 487.8h0M1077.6 509.7h0M1084.1 573.7h0M1023.4 487.0h0M1074.2 526.8h0M1062.2 522.2h0M1012.7 485.6h0M1104.5 562.4h0M1073.8 496.6h0M1144.2 546.6h0M1064.1 506.2h0M1055.0 587.0h0M1005.5 556.5h0M1031.4 502.2h0M1037.0 526.3h0M1096.7 528.0h0M1134.9 490.5h0M1122.9 526.1h0M1095.5 574.8h0M1075.5 573.0h0M1153.8 519.4h0M1036.0 598.8h0M1060.2 528.9h0M1150.1 497.5h0M1012.9 493.0h0M1036.8 529.5h0M1051.0 535.8h0M989.9 518.2h0M1068.2 602.0h0M1098.4 608.1h0M1134.7 540.8h0M1084.9 592.7h0M1117.0 547.6h0M1081.0 552.7h0M1040.1 529.2h0M1044.1 587.5h0M1066.9 489.5h0M1009.6 585.2h0M1100.0 511.6h0M1012.4 562.6h0M1147.0 504.3h0M1020.2 494.5h0M1019.4 502.8h0M1008.8 498.4h0M1023.3 529.5h0M1025.5 566.0h0M1025.8 507.0h0M1057.2 492.6h0M992.3 538.7h0M1058.7 515.1h0M993.1 490.7h0M1073.3 570.5h0M1071.0 577.6h0M1021.0 473.7h0M1105.4 522.1h0M1034.8 479.8h0M1066.6 593.4h0M1132.0 504.3h0M1025.3 556.4h0M1148.1 536.7h0M1058.3 609.8h0M1107.9 500.7h0M1031.8 494.0h0M1148.7 519.8h0M1068.3 589.9h0M1047.3 501.9h0M1073.8 606.3h0M1091.4 597.1h0M1061.4 569.9h0M1105.2 532.8h0M1075.0 587.9h0M1048.2 567.9h0M1080.4 594.1h0M1025.9 536.8h0M1002.7 488.5h0M1087.5 582.7h0M1086.5 558.8h0M1059.3 507.7h0M1126.4 524.1h0M1109.0 549.1h0M1144.8 490.3h0M1029.2 482.1h0M1016.9 524.9h0M1049.8 488.8h0M1071.8 493.0h0M1032.2 600.7h0M1094.4 556.8h0M1040.3 511.9h0M1098.1 567.8h0M1034.3 568.9h0M1144.2 537.0h0M1151.7 504.6h0M1004.3 518.2h0M1149.8 511.2h0M994.8 517.2h0M1069.4 522.8h0M1043.3 474.5h0M1063.5 608.8h0M1000.9 533.1h0M1130.1 490.3h0M995.2 498.0h0M1123.0 494.0h0M1016.6 565.3h0M1013.7 532.2h0M1010.0 481.0h0M1068.8 548.1h0M1080.7 492.0h0M1090.1 497.4h0M1044.1 497.3h0M1098.7 593.9h0M1013.0 496.7h0M1072.7 614.6h0M1087.1 608.3h0M1066.2 550.4h0M1005.0 521.2h0M1056.6 565.2h0M1148.4 531.3h0M1085.3 528.5h0M1050.9 506.8h0M1110.6 586.2h0M1055.9 495.5h0M1077.7 540.6h0M1059.3 601.0h0M1140.2 510.3h0M1063.7 500.4h0M1151.0 487.6h0M1064.6 535.8h0M1071.5 537.9h0M1037.0 475.4h0M1040.6 519.1h0M1001.9 556.5h0M1071.1 562.1h0M1130.8 565.9h0M1023.1 588.4h0M1116.4 539.8h0M1013.1 541.2h0M1058.6 485.3h0M1147.4 542.8h0M1133.9 507.9h0M1087.2 572.6h0M1084.4 554.3h0M1084.0 563.7h0M1141.5 514.4h0M1051.7 610.4h0M1004.0 578.5h0M1052.3 580.5h0M1038.9 498.1h0M1025.9 518.0h0M1114.6 498.2h0M1033.5 535.8h0M1053.8 592.3h0M1148.1 494.7h0M1020.9 550.4h0M1073.1 601.8h0M1013.8 536.7h0M1040.0 545.7h0M1074.7 518.6h0M1004.0 537.9h0M1091.9 519.6h0M1076.0 557.4h0M1081.5 501.5h0M1044.2 574.1h0M1053.4 546.1h0M1023.8 560.9h0M1116.2 586.8h0M1107.0 536.8h0M1030.4 572.0h0M1108.5 581.8h0M1094.5 506.3h0M1082.4 581.3h0M1044.3 564.0h0M1089.3 602.5h0M1120.0 566.9h0M1079.4 599.7h0M1089.5 569.9h0M1038.2 483.4h0M1154.0 500.3h0M1039.2 567.4h0M1061.8 589.3h0M1078.8 545.4h0M997.6 512.3h0M1075.5 487.3h0M1138.6 498.8h0M1153.1 509.4h0M1041.0 587.8h0M1052.1 478.6h0M1016.4 481.0h0M1129.6 498.6h0M1132.9 524.0h0M1036.2 545.7h0M1045.3 537.1h0M1040.6 539.2h0M1004.1 507.2h0M1058.4 552.1h0M995.3 558.6h0M1083.3 606.3h0M1075.1 578.9h0M1063.4 572.5h0M1049.2 549.9h0M1112.6 554.4h0M1089.6 524.5h0M1062.0 533.0h0M1050.2 510.6h0M1077.0 562.1h0M1098.4 519.5h0M1123.2 486.7h0M1139.1 540.2h0M1004.9 476.9h0M1088.1 501.0h0M1046.9 483.6h0M1080.5 613.9h0M1001.8 511.9h0M1138.0 513.8h0M1019.6 487.0h0M1049.5 526.0h0M1041.1 493.4h0M1019.5 514.2h0M1043.3 504.6h0M1051.5 576.7h0M1091.7 564.4h0M1111.2 543.5h0M1057.6 533.5h0M1022.8 541.7h0M1118.0 576.5h0M1068.4 516.5h0M1078.2 582.5h0M1123.7 552.3h0M1040.2 486.3h0M1085.7 596.6h0M1157.0 496.3h0M1080.7 539.5h0M1071.2 541.6h0M994.5 530.9h0M1019.2 570.6h0M1064.8 530.3h0M1009.0 577.3h0M1050.1 485.6h0M1010.4 573.8h0M1067.2 504.4h0M1133.2 483.5h0M1104.6 511.1h0M1099.5 546.8h0M1083.8 587.7h0M1110.2 537.5h0M1000.9 477.7h0M1001.5 500.0h0M1117.9 581.5h0M1148.4 489.9h0M1040.5 553.7h0M1039.0 549.0h0M1024.8 578.8h0M1125.5 559.2h0M1133.2 562.4h0M1116.5 511.1h0M1100.4 564.9h0M1097.1 561.4h0M1021.2 573.1h0M1060.2 497.4h0M1078.1 530.3h0M1101.9 536.9h0M1054.1 526.5h0M1008.4 564.1h0M1074.7 531.5h0M1012.1 507.2h0M1081.8 566.5h0M1095.0 578.3h0M1046.5 581.4h0M1005.7 560.5h0M1035.7 595.5h0M1003.2 497.1h0M999.1 491.5h0M1156.9 492.1h0M1065.2 545.4h0M1059.5 574.3h0M1116.1 491.4h0M1090.8 504.3h0M996.7 565.3h0M1008.8 476.1h0M992.0 527.9h0M1030.5 534.5h0M1101.1 569.0h0M1086.3 524.6h0M1025.7 524.4h0M1063.5 488.2h0M1125.4 498.2h0M1065.8 578.0h0M1036.5 512.7h0M996.2 522.3h0M1121.4 548.6h0M1130.4 534.3h0M1015.4 560.6h0M1056.1 612.2h0M1036.2 520.0h0M1124.7 521.3h0M1136.0 486.6h0M1154.1 524.9h0M1037.4 487.8h0M1002.7 563.8h0M1136.8 538.1h0M1012.0 512.8h0M1049.3 559.7h0M1081.9 557.5h0M1050.9 502.8h0M1054.2 558.9h0M1012.8 519.9h0M1141.7 493.1h0M992.0 494.8h0M1121.0 582.9h0M1061.8 613.8h0M1028.5 553.9h0M1116.1 529.7h0M1105.7 517.1h0M1034.0 471.2h0M1127.4 566.5h0M1061.2 565.7h0M1007.0 365.0h0M1010.0 366.0h0M1006.0 392.0h0M1006.0 404.0h0M1008.0 416.0h0M1001.0 436.0h0M1011.0 434.0h0M1001.0 451.0h0M1013.0 461.0h0M1031.0 447.0h0M1040.0 455.0h0M1062.0 356.0h0M1090.0 441.0h0M1000.0 455.0h0M1020.0 460.0h0M1155.0 420.0h0M1160.0 455.0h0M1135.0 455.0h0M1075.0 440.0h0M1058.0 383.0h0" stroke="#C76565" stroke-width="6.9" stroke-linecap="round" fill="none"/>
<path d="M1074.4 256.4h0M1076.1 223.8h0M1062.3 250.6h0M981.1 204.2h0M1085.7 281.4h0M977.1 291.0h0M1061.5 278.4h0M1047.1 280.1h0M1025.0 273.2h0M1099.4 273.0h0M1024.4 291.7h0M1030.2 236.0h0M991.3 232.9h0M970.5 220.0h0M1013.5 303.8h0M1066.2 293.6h0M1000.9 197.4h0M1049.5 225.3h0M1004.1 310.7h0M1051.4 289.6h0M1034.3 289.2h0M1036.3 264.8h0M964.7 185.3h0M1059.1 285.0h0M1052.0 211.0h0M1019.1 291.6h0M1006.7 275.9h0M1023.3 295.9h0M968.2 193.8h0M970.2 236.8h0M984.8 253.6h0M1004.1 185.5h0M1017.6 229.5h0M1028.7 227.2h0M1108.8 282.0h0M1040.6 211.3h0M1009.9 253.7h0M999.3 259.6h0M1078.7 286.6h0M999.8 282.7h0M966.5 267.9h0M962.0 226.3h0M1042.5 303.0h0M1072.9 272.8h0M1041.0 278.9h0M1053.1 240.1h0M1006.5 244.4h0M981.2 198.3h0M1090.2 259.4h0M1060.2 241.4h0M974.6 259.6h0M987.0 301.1h0M992.0 237.0h0M1026.3 259.5h0M1098.7 268.9h0M1057.2 257.2h0M941.4 199.4h0M954.7 239.3h0M971.8 205.1h0M1036.5 247.4h0M994.4 253.2h0M992.2 303.8h0M1078.3 295.7h0M1020.0 249.4h0M1019.9 242.2h0M1004.3 248.9h0M1025.0 197.3h0M965.2 245.9h0M978.8 295.2h0M991.5 316.9h0M1018.4 205.3h0M952.3 209.2h0M1064.5 261.3h0M953.9 215.8h0M1068.0 245.2h0M967.8 210.9h0M1038.9 252.4h0M1071.6 254.1h0M987.6 276.0h0M1019.0 192.9h0M1066.7 238.7h0M1083.5 276.1h0M1066.5 264.6h0M970.7 183.4h0M978.5 212.2h0M1090.3 268.1h0M1066.9 299.3h0M1009.9 241.9h0M1009.1 227.1h0M984.5 282.7h0M1055.4 292.9h0M1061.6 221.4h0M1069.1 303.5h0M1009.5 214.1h0M999.1 254.0h0M1026.5 217.2h0M1002.6 305.7h0M1025.7 206.7h0M1050.0 250.8h0M1028.5 303.0h0M1068.2 232.4h0M1034.0 283.7h0M992.6 266.2h0M1064.7 230.9h0M1018.6 302.7h0M979.4 215.9h0M1001.8 273.4h0M1022.1 285.7h0M1037.4 243.1h0M935.3 209.7h0M991.7 273.0h0M961.9 247.2h0M979.5 259.7h0M1055.9 252.3h0M1067.3 268.8h0M1081.0 241.0h0M1013.2 249.1h0M998.1 207.1h0M1056.7 269.5h0M940.0 213.5h0M983.7 261.8h0M998.2 319.8h0M971.2 197.8h0M950.5 219.7h0M996.5 285.2h0M1007.0 272.0h0M955.6 197.1h0M1095.0 280.5h0M988.9 171.4h0M1043.6 228.5h0M990.2 298.5h0M1007.2 296.9h0M1107.7 289.6h0M1059.0 300.9h0M1027.3 231.9h0M995.8 294.0h0M1053.2 276.6h0M1019.3 185.3h0M1082.1 290.5h0M1017.4 259.2h0M1077.1 248.6h0M1017.0 247.1h0M1064.7 286.5h0M991.3 292.9h0M998.7 276.8h0M999.1 312.2h0M1102.1 293.1h0M999.8 226.2h0M1009.3 265.9h0M1061.5 289.2h0M1007.1 189.5h0M996.6 247.8h0M1039.3 259.4h0M1065.4 218.2h0M1054.1 229.0h0M1073.2 248.5h0M1048.2 301.4h0M1063.0 301.6h0M996.4 236.9h0M1047.5 218.0h0M999.9 249.4h0M1085.9 271.8h0M1011.8 271.5h0M995.4 261.3h0M989.5 212.2h0M998.7 176.0h0M1084.2 257.6h0M1036.1 278.6h0M1042.8 234.9h0M1035.0 301.4h0M979.0 254.1h0M982.9 229.6h0M1004.9 179.7h0M946.1 226.2h0M985.1 234.7h0M1003.6 204.0h0M1019.0 200.4h0M985.5 222.5h0M1074.8 232.8h0M1013.7 202.6h0M946.7 232.9h0M985.2 247.5h0M1101.4 284.1h0M1016.0 295.3h0M1028.2 263.1h0M1012.4 299.4h0M976.3 250.3h0M1012.0 196.0h0M940.2 223.3h0M1028.9 242.5h0M1026.7 210.8h0M957.6 233.9h0M960.5 243.8h0M976.7 175.9h0M994.5 324.0h0M1056.4 239.1h0M949.3 228.3h0M983.2 319.9h0M979.4 178.4h0M1074.2 264.5h0M981.9 302.0h0M963.4 238.0h0M1044.5 300.0h0M981.0 247.3h0M985.6 311.1h0M1067.1 256.7h0M938.0 205.6h0M1000.9 300.2h0M997.0 197.2h0M1045.5 272.0h0M1030.5 267.7h0M1083.0 268.1h0M974.6 223.5h0M1013.3 216.8h0M988.1 183.0h0M988.2 252.8h0M1067.7 250.4h0M951.7 223.7h0M1073.2 280.1h0M1056.5 243.4h0M988.0 289.6h0M1060.7 236.3h0M974.7 279.3h0M1073.1 229.2h0M1013.9 263.2h0M1077.3 236.4h0M1025.3 193.8h0M961.3 216.7h0M1093.1 276.3h0M1038.5 234.9h0M999.8 234.7h0M982.6 309.3h0M1003.8 236.4h0M1059.7 215.7h0M973.4 238.4h0M1034.4 207.4h0M1031.4 256.6h0M989.3 279.3h0M984.4 200.3h0M979.2 284.6h0M971.5 288.5h0M1014.1 309.4h0M1077.7 254.8h0M1003.4 254.8h0M979.6 230.9h0M970.8 215.2h0M1035.1 269.0h0M977.1 226.8h0M942.6 227.2h0M1006.3 305.4h0M993.3 257.8h0M1099.2 279.8h0M1029.2 213.3h0M1080.8 259.9h0M1082.2 271.5h0M1009.6 249.6h0M1082.0 264.4h0M975.9 266.5h0M1082.9 244.5h0M988.9 245.3h0M984.1 187.1h0M980.4 287.9h0M1040.5 237.8h0M1053.1 302.0h0M1004.1 291.3h0M1058.1 280.6h0M1004.8 319.8h0M1064.9 278.7h0M1061.1 256.9h0M1022.9 216.7h0M1051.8 270.3h0M1023.7 242.5h0M972.8 284.8h0M980.1 235.2h0M1015.9 209.7h0M987.9 200.1h0M1009.0 207.0h0M984.3 241.4h0M1028.8 272.8h0M1007.1 301.5h0M996.5 222.1h0M1026.0 246.4h0M1039.0 292.7h0M986.2 258.1h0M942.8 207.3h0M1069.6 285.2h0M1048.4 208.1h0M1009.4 316.5h0M1004.6 282.5h0M977.4 246.1h0M972.2 179.2h0M997.4 212.8h0M1032.4 293.1h0M1007.2 239.6h0M947.2 212.2h0M987.0 209.4h0M1030.7 204.2h0M977.4 270.4h0M970.4 244.0h0M1036.2 218.9h0M1018.3 396.8h0M987.4 343.1h0M1007.8 346.8h0M1015.0 403.3h0M1018.5 426.0h0M1011.4 418.6h0M1013.5 448.0h0M1005.5 330.4h0M1008.4 396.7h0M1027.5 357.6h0M1016.1 345.3h0M1017.7 413.9h0M996.1 333.8h0M1014.6 372.6h0M1006.8 378.2h0M1033.5 364.2h0M1000.6 443.8h0M999.1 366.2h0M1023.1 374.4h0M997.3 382.1h0M1004.3 449.3h0M1022.3 364.3h0M990.9 351.2h0M999.5 352.4h0M996.9 434.5h0M1007.8 427.9h0M994.2 356.8h0M1003.6 410.6h0M1145.0 368.0h0M1150.0 340.0h0M1176.0 372.0h0M1045.0 445.0h0M1096.0 334.0h0M1110.0 309.0h0M1092.0 326.0h0M1113.0 303.0h0M1117.0 320.0h0M1105.0 336.0h0M1126.0 338.0h0M1057.0 345.0h0M1063.0 329.0h0M1002.0 355.0h0M1010.0 343.0h0M1018.0 340.0h0M1025.0 338.0h0M1031.0 341.0h0M1040.0 336.0h0M1050.0 325.0h0M1066.0 342.0h0M1085.0 387.0h0M1046.0 428.0h0M1030.0 453.0h0M1013.0 428.0h0M1018.0 418.0h0" stroke="#8C963F" stroke-width="6.9" stroke-linecap="round" fill="none"/>
<path d="M1218.6 511.6h0M1207.8 472.5h0M1191.0 507.0h0M1225.3 568.5h0M1174.2 511.4h0M1175.5 488.1h0M1177.5 535.6h0M1231.2 573.4h0M1214.5 502.9h0M1165.9 501.2h0M1182.2 576.7h0M1234.9 583.5h0M1198.5 473.7h0M1164.1 484.6h0M1183.7 472.9h0M1181.4 584.9h0M1223.1 541.4h0M1245.7 546.2h0M1214.2 495.4h0M1221.7 491.1h0M1182.6 513.8h0M1236.7 544.6h0M1181.9 507.6h0M1194.4 537.0h0M1158.2 501.0h0M1223.5 518.1h0M1193.3 542.1h0M1232.2 550.6h0M1218.9 559.2h0M1181.6 503.9h0M1189.0 578.6h0M1210.4 504.6h0M1240.0 537.8h0M1223.8 513.9h0M1217.9 522.0h0M1203.4 490.5h0M1188.4 523.4h0M1224.6 487.9h0M1198.6 588.6h0M1187.0 537.7h0M1160.7 497.7h0M1180.4 543.5h0M1172.9 534.5h0M1167.4 511.2h0M1163.1 492.4h0M1203.8 511.5h0M1181.4 527.3h0M1219.4 502.0h0M1189.5 591.2h0M1214.2 527.9h0M1235.0 517.9h0M1199.1 469.5h0M1176.3 499.4h0M1230.3 507.8h0M1209.0 493.0h0M1209.9 576.4h0M1203.4 534.0h0M1221.6 531.9h0M1167.6 497.0h0M1154.7 492.0h0M1209.2 537.0h0M1213.6 561.2h0M1229.8 565.6h0M1232.1 512.8h0M1212.7 585.6h0M1226.2 562.9h0M1167.0 487.5h0M1183.6 556.6h0M1175.0 477.8h0M1241.6 565.4h0M1165.5 516.3h0M1174.1 528.5h0M1244.2 568.1h0M1187.9 553.5h0M1198.8 478.3h0M1182.7 563.6h0M1194.3 564.8h0M1180.4 478.0h0M1220.2 526.5h0M1195.4 549.3h0M1165.4 507.4h0M1211.2 596.6h0M1174.4 517.1h0M1173.9 580.9h0M1222.2 573.9h0M1207.4 499.7h0M1227.6 485.4h0M1211.8 490.0h0M1192.6 470.2h0M1177.2 556.4h0M1188.9 584.5h0M1194.6 474.4h0M1186.7 510.2h0M1217.6 565.9h0M1157.2 486.2h0M1229.0 490.6h0M1218.1 496.7h0M1198.0 566.8h0M1215.4 551.6h0M1187.3 561.0h0M1161.1 478.7h0M1172.9 597.9h0M1167.9 477.5h0M1187.2 567.2h0M1191.8 569.0h0M1198.3 486.2h0M1206.7 520.6h0M1217.1 481.6h0M1186.5 594.0h0M1200.6 522.2h0M1212.7 548.5h0M1178.1 588.3h0M1196.3 573.8h0M1202.6 547.8h0M1227.4 497.8h0M1219.9 570.2h0M1237.6 555.0h0M1175.4 564.1h0M1184.6 499.5h0M1204.3 504.6h0M1192.0 502.4h0M1222.2 591.3h0M1192.9 522.7h0M1188.0 492.2h0M1205.4 558.6h0M1192.1 546.8h0M1194.0 511.9h0M1229.2 524.9h0M1179.9 493.9h0M1198.4 578.2h0M1217.5 508.0h0M1210.3 496.5h0M1197.5 514.9h0M1156.1 496.8h0M1194.8 594.0h0M1220.6 562.8h0M1166.3 595.0h0M1232.4 541.9h0M1220.6 483.1h0M1215.0 515.2h0M1161.2 487.1h0M1203.2 527.8h0M1199.4 559.2h0M1220.7 487.2h0M1237.1 580.3h0M1213.2 522.4h0M1198.4 554.1h0M1193.0 489.8h0M1172.8 492.4h0M1210.2 552.4h0M1208.4 561.4h0M1179.0 519.4h0M1212.5 578.9h0M1202.6 481.2h0M1191.6 476.8h0M1177.1 509.0h0M1196.5 493.4h0M1216.1 573.9h0M1222.3 581.2h0M1227.8 555.0h0M1244.9 533.6h0M1207.3 584.9h0M1160.7 504.9h0M1203.3 584.1h0M1170.3 499.9h0M1177.1 578.5h0M1193.4 590.4h0M1219.3 594.5h0M1212.1 508.1h0M1173.5 586.8h0M1192.1 531.3h0M1237.0 569.6h0M1223.4 586.8h0M1204.9 589.6h0M1174.4 545.1h0M1171.0 513.7h0M1181.4 484.6h0M1191.4 572.7h0M1240.4 533.5h0M1186.2 526.7h0M1194.7 505.2h0M1203.8 498.4h0M1199.4 541.1h0M1242.6 528.2h0M1202.4 551.9h0M1181.4 547.6h0M1191.7 516.7h0M1227.8 530.0h0M1222.4 535.9h0M1211.1 530.8h0M1199.8 535.0h0M1181.7 535.1h0M1231.4 532.4h0M1174.4 502.7h0M1210.3 542.6h0M1198.3 584.8h0M1237.8 522.6h0M1200.8 507.6h0M1196.8 501.2h0M1221.9 545.6h0M1186.8 482.0h0M1206.1 599.7h0M1164.6 590.9h0M1203.9 565.7h0M1228.3 559.8h0M1200.6 572.7h0M1161.7 508.6h0M1192.0 597.4h0M1229.8 536.4h0M1210.7 570.8h0M1236.3 575.2h0M1228.1 501.9h0M1226.8 584.1h0M1186.9 574.2h0M1218.8 578.8h0M1123.3 597.5h0M1145.4 573.0h0M1168.5 527.9h0M1141.8 580.9h0M1146.8 553.0h0M1144.3 594.6h0M1117.8 582.0h0M1129.2 514.0h0M1141.4 518.8h0M1140.2 569.6h0M1155.8 518.8h0M1167.6 544.8h0M1152.3 543.6h0M1159.5 538.3h0M1165.5 604.8h0M1165.5 511.7h0M1138.5 562.0h0M1136.0 524.9h0M1150.0 517.7h0M1121.4 549.7h0M1175.7 577.0h0M1154.0 602.8h0M1149.6 584.1h0M1153.5 512.8h0M1161.4 551.3h0M1140.3 586.5h0M1125.6 541.1h0M1128.9 578.8h0M1102.4 465.4h0M1097.3 582.7h0M1154.5 540.6h0M1101.8 441.9h0M1097.7 516.5h0M1137.0 577.6h0M1096.0 451.7h0M1105.4 477.1h0M1117.3 480.7h0M1119.2 537.5h0M1137.8 560.3h0M1113.8 444.5h0M1138.6 491.6h0M1107.8 507.5h0M1151.0 447.2h0M1130.0 593.2h0M1097.1 546.7h0M1100.0 510.1h0M1101.0 489.7h0M1097.8 480.2h0M1156.1 488.4h0M1144.1 575.1h0M1169.3 480.5h0M1105.8 604.1h0M1168.0 493.1h0M1109.3 582.5h0M1109.0 567.0h0M1100.8 522.6h0M1138.8 532.1h0M1150.2 580.7h0M1134.3 478.9h0M1157.8 511.0h0M1154.9 576.0h0M1132.0 442.5h0M1101.3 568.1h0M1091.7 553.9h0M1130.3 525.3h0M1162.2 486.8h0M1156.1 563.0h0M1107.0 592.7h0M1130.1 577.0h0M1111.4 539.3h0M1153.4 496.4h0M1112.8 454.0h0M1143.4 507.7h0M1167.0 367.0h0M1192.0 380.0h0M1148.0 452.0h0M1155.0 448.0h0M1170.0 436.0h0M1180.0 452.0h0M1200.0 448.0h0M1210.0 443.0h0M1223.0 435.0h0M1098.0 471.0h0M1115.0 461.0h0M1128.0 464.0h0M1043.0 521.0h0M1064.0 495.0h0M1077.0 506.0h0M1138.0 441.0h0" stroke="#6DB47E" stroke-width="6.9" stroke-linecap="round" fill="none"/>
<path d="M881.9 182.4h0M858.5 176.6h0M940.6 170.4h0M955.3 159.3h0M936.0 174.1h0M949.5 182.2h0M905.9 199.1h0M926.8 178.3h0M862.1 181.5h0M883.9 162.4h0M930.0 203.3h0M986.3 175.7h0M977.1 179.3h0M933.3 213.4h0M864.8 172.1h0M947.4 194.7h0M839.3 178.9h0M930.3 160.7h0M964.4 177.5h0M980.3 173.1h0M928.4 187.7h0M910.1 147.6h0M952.7 175.7h0M913.7 178.1h0M946.0 200.2h0M930.0 169.5h0M914.9 146.3h0M885.7 172.4h0M954.6 154.3h0M912.5 163.3h0M883.3 144.9h0M948.3 162.6h0M900.1 154.9h0M986.0 184.0h0M940.9 185.9h0M950.9 171.4h0M946.3 190.2h0M896.0 189.7h0M881.2 154.5h0M868.4 189.5h0M894.0 166.0h0M860.0 165.6h0M879.9 187.5h0M921.9 195.3h0M923.1 207.0h0M889.6 144.7h0M853.0 153.6h0M873.2 175.0h0M873.4 164.0h0M883.2 177.6h0M888.7 170.4h0M946.4 183.8h0M971.2 181.0h0M910.2 189.2h0M851.6 170.0h0M928.1 198.1h0M929.7 193.9h0M891.4 150.2h0M859.9 172.2h0M873.4 190.2h0M936.5 163.2h0M854.5 166.7h0M915.3 158.1h0M870.6 156.4h0M845.5 172.5h0M847.1 162.1h0M924.0 186.7h0M920.1 192.4h0M914.6 171.7h0M978.2 176.1h0M951.2 187.4h0M943.2 195.3h0M920.5 179.6h0M908.4 178.6h0M941.6 202.2h0M955.9 165.6h0M935.9 184.0h0M905.5 186.9h0M907.6 150.3h0M886.9 184.4h0M876.7 172.6h0M894.7 175.3h0M981.2 179.5h0M960.2 171.2h0M915.3 190.9h0M890.8 195.7h0M890.0 166.6h0M875.1 183.3h0M845.2 177.6h0M969.6 173.0h0M958.0 182.1h0M856.7 182.8h0M905.3 153.3h0M926.8 213.0h0M854.6 185.3h0M893.0 180.4h0M849.7 180.9h0M912.7 207.0h0M927.0 152.2h0M948.3 178.3h0M901.8 170.7h0M841.7 165.6h0M851.8 161.8h0M926.3 193.4h0M933.4 151.0h0M850.0 164.6h0M955.3 188.0h0M922.4 163.6h0M890.0 179.2h0M922.6 170.2h0M881.7 192.2h0M901.1 198.9h0M923.1 152.9h0M866.9 165.0h0M976.8 183.4h0M911.5 182.4h0M940.7 192.0h0M840.4 154.6h0M971.9 187.9h0M932.2 208.7h0M921.7 159.1h0M884.4 156.5h0M904.5 148.4h0M934.0 196.0h0M941.2 158.4h0M984.0 187.5h0M942.1 181.2h0M875.8 178.0h0M942.8 162.8h0M939.9 154.9h0M920.5 185.2h0M892.3 188.5h0M837.1 172.6h0M933.1 192.7h0M946.9 165.9h0M961.1 187.7h0M915.3 184.1h0M912.3 153.0h0M919.4 203.3h0M953.0 167.8h0M888.5 175.5h0M964.2 187.0h0M930.0 179.6h0M876.0 186.4h0M955.7 179.0h0M900.2 177.9h0M895.1 186.0h0M862.8 155.2h0M975.3 168.5h0M915.2 167.0h0M936.0 177.3h0M899.2 151.5h0M850.8 156.3h0M861.8 159.2h0M899.2 192.9h0M918.4 170.5h0M845.9 183.3h0M886.7 167.3h0M962.1 174.7h0M946.0 157.6h0M837.0 157.7h0M980.0 183.5h0M961.2 182.4h0M866.8 176.9h0M950.3 192.3h0M937.4 211.3h0M933.7 187.5h0M948.8 198.4h0M904.3 177.4h0M887.7 152.4h0M867.8 183.0h0M843.5 161.0h0M941.2 209.0h0M914.7 197.6h0M950.1 157.5h0M867.3 160.2h0M940.0 176.9h0M906.5 182.5h0M948.1 150.5h0M930.0 153.6h0M936.1 167.6h0M968.8 168.8h0M961.5 164.4h0M978.9 187.9h0M937.3 159.9h0M922.4 199.5h0M919.7 155.4h0M875.7 159.3h0M847.6 154.4h0M906.5 161.5h0M911.5 199.3h0M968.3 185.6h0M881.6 172.8h0M908.7 168.1h0M956.4 170.1h0M897.2 172.5h0M904.5 202.4h0M878.6 165.6h0M917.4 148.8h0M855.2 174.9h0" stroke="#69A0CC" stroke-width="6.9" stroke-linecap="round" fill="none"/>
<path d="M1171.5 374.9h0M1167.5 346.0h0M1170.4 342.7h0M1135.4 318.1h0M1158.7 325.0h0M1139.0 337.4h0M1145.5 349.1h0M1158.4 347.5h0M1158.2 388.0h0M1156.4 358.5h0M1144.0 326.4h0M1139.2 312.3h0M1148.7 364.4h0M1126.9 382.3h0M1151.3 369.4h0M1149.7 386.1h0M1167.8 320.1h0M1158.3 334.2h0M1134.8 311.6h0M1149.9 374.9h0M1141.7 316.6h0M1138.1 369.0h0M1138.0 395.4h0M1123.8 313.8h0M1134.3 368.6h0M1139.4 348.8h0M1162.8 380.3h0M1167.7 350.8h0M1143.1 369.6h0M1151.9 399.3h0M1156.9 365.6h0M1166.8 355.5h0M1154.2 373.3h0M1140.7 356.7h0M1158.7 338.1h0M1131.5 349.0h0M1149.5 350.6h0M1137.1 355.3h0M1160.1 318.3h0M1166.3 377.8h0M1132.7 332.7h0M1161.2 367.5h0M1137.4 321.2h0M1165.4 383.2h0M1147.0 316.7h0M1138.7 377.5h0M1174.4 347.5h0M1183.0 377.4h0M1124.9 336.3h0M1147.2 355.4h0M1141.1 365.3h0M1148.7 329.6h0M1166.9 337.6h0M1152.6 393.7h0M1129.0 369.9h0M1141.9 342.7h0M1184.3 350.5h0M1168.6 324.4h0M1137.1 327.3h0M1155.1 381.3h0M1156.3 320.8h0M1136.1 342.0h0M1132.7 356.1h0M1179.0 387.2h0M1136.2 380.9h0M1159.9 360.0h0M1172.3 383.9h0M1178.5 376.0h0M1145.9 335.0h0M1177.2 371.0h0M1140.2 380.9h0M1132.0 386.8h0M1161.4 363.8h0M1149.6 346.9h0M1166.4 366.6h0M1136.7 374.3h0M1160.9 403.0h0M1155.9 343.0h0M1184.2 369.4h0M1129.6 326.8h0M1182.6 353.7h0M1152.7 331.5h0M1176.7 366.8h0M1133.9 328.9h0M1126.2 346.1h0M1151.4 405.0h0M1126.3 354.9h0M1143.5 373.5h0M1145.1 361.1h0M1145.1 379.0h0M1153.7 351.1h0M1152.7 337.1h0M1130.7 359.6h0M1169.4 359.8h0M1159.8 376.4h0M1143.4 332.1h0M1151.9 321.2h0M1126.4 375.6h0M1131.3 377.3h0M1181.4 358.8h0M1135.0 337.9h0M1181.9 345.4h0M1179.4 340.6h0M1143.4 397.2h0M1150.5 315.3h0M1174.4 360.0h0M1139.5 352.5h0M1128.8 312.5h0M1160.5 372.6h0M1133.8 362.6h0M1175.0 391.0h0M1172.7 339.9h0M1175.8 380.2h0M1126.0 363.5h0M1171.6 367.7h0M1159.5 393.7h0M1147.2 398.4h0M1170.9 330.5h0M1139.7 386.7h0M1156.7 401.4h0M1133.6 321.6h0M1135.8 346.1h0M1149.7 325.2h0M1125.9 359.7h0M1155.2 316.5h0M1154.9 390.6h0M1164.3 316.4h0M1167.4 387.2h0M1153.4 326.3h0M1184.8 362.3h0M1164.8 401.2h0M1166.0 370.3h0M1165.4 395.3h0M1170.5 391.2h0M1150.6 390.7h0M1116.0 287.0h0M1120.0 292.0h0M1126.0 296.0h0M1132.0 298.0h0M1086.0 313.0h0M1092.0 315.0h0M1097.0 317.0h0M1113.0 340.0h0M1115.0 347.0h0M1117.0 355.0h0M1119.0 362.0h0M1140.0 410.0h0M1150.0 418.0h0M1162.0 425.0h0M1175.0 432.0h0M1190.0 440.0h0M1160.0 445.0h0M1145.0 437.0h0M1170.0 412.0h0M1182.0 418.0h0M1105.0 312.0h0M1053.0 492.0h0M1096.0 516.0h0M1138.0 486.0h0" stroke="#8D68A6" stroke-width="6.9" stroke-linecap="round" fill="none"/>
<path d="M1564.5 206.9h0M1568.6 210.8h0M1544.5 200.3h0M1579.5 214.7h0M1544.9 162.7h0M1569.5 218.1h0M1568.0 221.2h0M1564.9 167.7h0M1593.5 227.5h0M1554.3 161.0h0M1552.3 138.8h0M1539.5 163.3h0M1572.5 191.3h0M1539.4 187.6h0M1546.6 166.6h0M1546.4 183.9h0M1537.4 210.1h0M1548.9 212.7h0M1558.5 192.1h0M1573.6 249.6h0M1544.4 150.5h0M1549.3 155.4h0M1562.2 143.5h0M1575.3 169.8h0M1564.0 137.4h0M1543.9 180.3h0M1582.3 210.4h0M1536.3 205.0h0M1585.8 254.3h0M1590.0 256.4h0M1557.0 224.4h0M1598.0 250.3h0M1577.4 182.2h0M1574.2 213.8h0M1585.1 183.1h0M1585.6 209.9h0M1566.6 161.0h0M1582.9 198.2h0M1553.2 223.4h0M1545.5 189.0h0M1574.3 173.1h0M1540.9 198.1h0M1593.2 247.1h0M1551.4 152.5h0M1577.4 197.7h0M1577.7 191.2h0M1577.8 220.2h0M1566.2 153.9h0M1551.0 177.1h0M1582.8 201.4h0M1540.4 192.1h0M1558.8 208.2h0M1596.4 239.9h0M1536.9 190.4h0M1541.2 149.7h0M1547.2 202.3h0M1578.4 201.8h0M1554.0 182.1h0M1593.8 254.4h0M1570.7 199.0h0M1570.9 186.6h0M1602.2 257.5h0M1550.8 194.9h0M1566.3 173.2h0M1545.0 215.0h0M1582.0 173.8h0M1557.2 215.3h0M1558.8 186.5h0M1550.1 142.5h0M1560.8 224.4h0M1581.7 255.9h0M1568.3 224.4h0M1544.8 138.8h0M1544.5 157.4h0M1555.1 194.0h0M1544.2 192.2h0M1577.7 185.3h0M1580.0 208.3h0M1570.5 183.2h0M1549.9 184.9h0M1558.8 142.7h0M1542.6 194.7h0M1558.0 168.8h0M1562.8 195.5h0M1584.7 194.2h0M1563.8 222.0h0M1574.2 187.4h0M1588.8 202.9h0M1589.3 216.0h0M1574.9 217.1h0M1550.9 188.2h0M1558.6 195.6h0M1546.4 176.8h0M1562.4 164.9h0M1555.0 205.4h0M1586.4 257.2h0M1562.6 180.4h0M1572.8 196.5h0M1581.9 170.6h0M1546.6 221.2h0M1551.8 148.9h0M1599.3 259.8h0M1600.5 253.5h0M1558.0 179.6h0M1560.3 183.0h0M1545.3 207.5h0M1571.3 208.0h0M1560.2 176.0h0M1567.6 203.8h0M1592.4 221.8h0M1562.1 149.3h0M1558.8 152.3h0M1535.4 192.9h0M1584.0 213.4h0M1554.7 165.1h0M1550.6 203.4h0M1593.9 243.4h0M1566.6 194.2h0M1571.3 202.2h0M1554.0 172.3h0M1538.6 183.9h0M1558.8 204.1h0M1541.2 142.1h0M1542.4 146.3h0M1561.1 139.1h0M1556.3 219.6h0M1592.3 214.1h0M1557.0 198.7h0M1572.6 165.8h0M1548.7 208.8h0M1559.2 211.4h0M1541.4 182.8h0M1569.5 165.7h0M1565.8 186.3h0M1561.3 189.4h0M1554.7 136.6h0M1570.0 162.3h0M1548.3 138.5h0M1598.8 263.5h0M1580.4 249.6h0M1539.9 203.8h0M1548.9 170.7h0M1553.7 198.4h0M1566.0 157.7h0M1551.4 218.1h0M1563.6 202.5h0M1548.3 197.1h0M1573.2 204.6h0M1557.9 159.1h0M1546.7 194.1h0M1553.7 191.2h0M1582.3 179.5h0M1560.1 162.2h0M1554.0 188.0h0M1542.0 210.1h0M1583.1 206.0h0M1534.8 198.0h0M1550.3 222.0h0M1553.8 179.2h0M1571.6 215.9h0M1567.4 207.5h0M1548.4 163.7h0M1555.0 153.7h0M1588.4 195.9h0M1582.1 187.4h0M1558.6 172.0h0M1577.4 167.1h0M1558.0 165.1h0M1539.6 139.4h0M1573.8 160.6h0M1579.8 241.9h0M1586.2 205.0h0M1556.9 189.0h0M1576.7 252.6h0M1582.2 192.1h0M1575.6 208.7h0M1590.3 200.2h0M1594.6 236.3h0M1539.5 154.3h0M1596.2 230.3h0M1541.6 216.9h0M1537.3 179.6h0M1580.7 176.9h0M1565.7 179.4h0M1560.7 220.3h0M1569.0 169.9h0M1561.1 214.2h0M1578.7 247.0h0M1549.5 166.6h0M1585.7 187.2h0M1564.1 189.8h0M1539.2 145.5h0M1574.9 201.4h0M1558.9 228.7h0M1555.6 150.1h0M1576.2 204.7h0M1573.0 177.5h0M1570.0 178.3h0M1594.8 259.1h0M1574.8 224.5h0M1595.6 262.2h0M1549.0 159.3h0M1558.5 145.7h0M1565.0 213.0h0M1566.0 215.8h0M1563.8 140.8h0M1568.3 188.3h0M1589.4 250.6h0M1548.7 174.6h0M1561.7 185.6h0M1570.1 155.4h0M1588.0 219.2h0M1547.6 179.7h0M1552.3 207.1h0M1553.9 211.4h0M1541.2 157.1h0M1545.0 144.6h0M1545.7 218.1h0M1552.0 169.8h0M1586.0 249.5h0M1573.8 252.9h0M1562.1 173.2h0M1561.6 154.5h0M1575.8 243.7h0M1578.0 194.2h0M1565.3 145.5h0M1545.8 169.5h0M1537.6 149.2h0M1540.2 178.1h0M1589.4 206.5h0M1586.8 199.0h0M1556.0 143.5h0M1576.0 177.7h0M1581.2 221.6h0M1540.0 212.2h0M1597.1 257.3h0M1558.1 155.5h0M1551.0 214.9h0M1542.6 167.5h0M1579.0 172.2h0M1576.3 162.7h0M1569.4 192.2h0M1565.4 224.8h0M1589.9 212.4h0M1547.3 146.7h0M1575.2 193.1h0M1582.8 252.3h0M1593.6 217.0h0M1552.1 144.9h0M1562.3 192.5h0M1547.4 150.7h0M1545.9 211.7h0M1570.9 158.6h0M1544.7 153.8h0M1562.6 209.5h0M1567.7 199.5h0M1584.1 176.8h0M1589.1 222.1h0M1560.7 201.3h0M1581.8 216.7h0M1597.9 246.5h0M1578.7 179.2h0M1571.8 171.2h0M1579.6 189.0h0M1554.6 157.7h0M1548.1 191.5h0M1534.2 201.2h0M1572.9 220.1h0M1543.0 186.9h0M1538.1 158.3h0M1542.1 161.5h0M1560.2 198.4h0M1555.3 201.1h0M1571.6 211.3h0M1580.3 204.5h0M1551.8 164.5h0M1597.7 243.1h0M1558.1 137.9h0M1565.6 209.8h0M1544.8 204.5h0" stroke="#C76565" stroke-width="7.6" stroke-linecap="round" fill="none"/>
<path d="M1721.6 269.4h0M1718.3 251.4h0M1724.6 266.6h0M1716.1 262.5h0M1711.8 276.8h0M1712.4 258.5h0M1708.0 264.2h0M1712.1 244.8h0M1714.9 271.0h0M1709.3 267.1h0M1711.0 254.9h0M1709.5 249.4h0M1722.2 264.7h0M1707.9 255.6h0M1717.8 259.4h0M1718.9 265.2h0M1715.5 253.9h0M1716.2 248.4h0M1709.1 258.4h0M1710.3 261.7h0M1712.3 268.6h0M1715.5 275.5h0M1722.0 261.3h0M1708.7 252.3h0M1718.6 276.0h0M1714.5 279.8h0M1717.1 268.7h0M1720.6 255.1h0M1713.2 251.3h0M1715.0 245.7h0M1725.1 270.5h0M1708.5 246.5h0M1715.0 265.9h0M1711.9 264.2h0M1718.5 271.6h0M1710.8 272.5h0M1715.0 256.8h0M1705.6 251.8h0M1712.4 247.8h0M1725.5 262.3h0M1706.8 261.3h0" stroke="#8C963F" stroke-width="7.6" stroke-linecap="round" fill="none"/>
<path d="M1749.3 262.9h0M1747.1 265.8h0M1751.0 257.9h0M1748.0 271.9h0M1749.8 268.9h0M1750.4 265.7h0M1746.8 268.9h0M1752.7 255.3h0M1751.5 260.9h0" stroke="#C76565" stroke-width="7.6" stroke-linecap="round" fill="none"/>
<path d="M1771.3 314.6h0M1785.0 303.2h0M1782.7 322.3h0M1770.9 302.7h0M1782.5 297.7h0M1776.6 286.7h0M1775.6 312.1h0M1765.1 320.7h0M1780.8 314.7h0M1769.7 320.6h0M1778.2 306.0h0M1789.5 312.0h0M1783.4 289.8h0M1789.3 291.9h0M1782.5 318.4h0M1790.6 306.8h0M1774.9 291.0h0M1786.5 319.0h0M1775.3 317.7h0M1780.5 303.3h0M1783.1 307.3h0M1773.0 322.8h0M1780.6 295.2h0M1775.9 299.4h0M1776.5 330.3h0M1784.7 311.9h0M1762.5 315.5h0M1770.6 309.4h0M1768.0 312.4h0M1771.7 296.9h0M1785.8 293.5h0M1792.3 297.6h0M1779.1 326.1h0M1774.6 308.3h0M1778.6 317.0h0M1769.3 325.5h0M1786.1 297.2h0M1763.8 311.6h0M1786.7 306.4h0M1775.0 295.7h0M1789.0 297.9h0M1768.1 304.0h0M1778.2 289.4h0M1776.5 322.5h0M1784.8 316.3h0M1776.0 303.8h0M1779.1 320.4h0M1773.7 328.1h0M1790.9 302.8h0M1786.7 300.3h0M1780.8 310.0h0M1781.3 292.0h0M1766.1 316.3h0M1771.4 318.2h0M1786.5 289.6h0M1773.0 287.2h0M1783.2 300.9h0M1767.7 308.3h0M1777.8 309.9h0M1779.0 299.0h0M1789.5 295.0h0M1788.2 316.1h0M1773.2 305.6h0M1788.2 308.9h0M1762.5 318.6h0M1774.2 333.2h0M1774.4 314.8h0" stroke="#8C963F" stroke-width="7.6" stroke-linecap="round" fill="none"/>
<path d="M1726.0 350.1h0M1724.6 361.2h0M1726.8 343.4h0M1708.2 385.8h0M1726.0 356.4h0M1722.3 371.6h0M1728.4 375.4h0M1721.3 376.4h0M1712.3 353.0h0M1713.0 385.1h0M1713.8 389.3h0M1729.4 365.7h0M1702.4 380.9h0M1718.9 347.7h0M1725.4 346.7h0M1721.3 367.8h0M1717.7 376.2h0M1708.9 357.3h0M1713.7 382.1h0M1705.4 347.4h0M1724.7 378.8h0M1725.0 368.6h0M1704.3 360.5h0M1705.7 366.7h0M1718.2 343.7h0M1722.7 342.9h0M1716.0 362.1h0M1727.3 363.4h0M1718.2 386.0h0M1731.5 391.0h0M1698.7 357.6h0M1730.3 379.6h0M1701.8 364.6h0M1701.7 370.0h0M1698.5 371.8h0M1715.7 369.6h0M1708.6 345.2h0M1701.1 355.7h0M1718.0 340.0h0M1730.0 349.1h0M1713.7 340.0h0M1714.1 373.8h0M1710.0 349.8h0M1722.6 389.2h0M1730.3 373.2h0M1707.3 375.0h0M1697.9 367.3h0M1718.3 390.8h0M1698.2 375.0h0M1720.8 392.8h0M1722.2 381.0h0M1697.7 381.5h0M1726.8 371.9h0M1720.6 362.6h0M1719.2 354.7h0M1711.6 356.0h0M1705.8 378.7h0M1705.8 370.1h0M1716.8 366.2h0M1700.6 377.8h0M1730.8 344.8h0M1706.3 353.4h0M1713.0 361.0h0M1722.5 357.3h0M1725.4 392.1h0M1728.9 357.6h0M1730.2 394.3h0M1710.8 363.4h0M1700.9 359.8h0M1706.8 382.8h0M1718.0 380.7h0M1724.2 374.9h0M1711.3 380.4h0M1717.1 350.7h0M1710.4 389.5h0M1719.1 369.9h0M1708.9 371.7h0M1734.2 385.0h0M1729.5 383.8h0M1729.8 340.3h0M1711.5 367.2h0M1710.7 342.8h0M1724.9 386.8h0M1703.5 386.7h0M1727.7 354.0h0M1729.0 388.3h0M1712.8 345.1h0M1702.6 348.7h0M1723.7 364.2h0M1697.8 363.7h0M1713.5 350.1h0M1700.0 383.5h0M1715.4 358.0h0M1707.8 362.0h0M1704.1 373.2h0M1715.8 345.9h0M1725.4 382.5h0M1722.2 352.7h0M1710.6 374.4h0M1701.8 352.7h0M1708.6 365.7h0M1715.1 379.2h0M1704.2 356.4h0M1715.3 353.9h0M1733.0 382.1h0M1722.3 349.8h0M1719.3 358.5h0M1730.6 354.8h0M1703.6 376.8h0M1701.3 374.5h0" stroke="#8C963F" stroke-width="7.6" stroke-linecap="round" fill="none"/>
<path d="M1935.6 396.5h0M1947.4 392.3h0M1937.7 391.1h0M1931.6 417.7h0M1937.7 381.6h0M1946.2 386.6h0M1931.4 423.3h0M1939.2 424.9h0M1937.5 419.7h0M1947.2 371.6h0M1927.9 422.1h0M1920.8 410.8h0M1940.0 394.2h0M1925.5 414.4h0M1945.0 373.8h0M1949.8 389.9h0M1945.1 390.3h0M1938.7 369.3h0M1934.9 423.4h0M1932.3 398.2h0M1936.5 427.3h0M1920.7 415.9h0M1932.8 428.3h0M1941.8 368.1h0M1924.8 420.6h0M1918.9 413.6h0M1950.4 377.5h0M1940.8 382.8h0M1946.6 382.6h0M1949.0 380.1h0M1943.3 398.5h0M1934.8 393.0h0M1948.8 385.3h0M1927.5 416.8h0M1946.0 377.4h0M1938.9 377.3h0M1937.1 387.3h0M1930.4 394.0h0M1944.6 380.3h0M1941.4 373.9h0M1933.5 420.1h0M1935.6 384.5h0M1929.1 398.5h0M1942.5 392.0h0M1936.0 434.4h0M1923.7 409.0h0M1923.4 417.1h0M1934.4 388.9h0M1943.7 383.7h0M1937.1 374.9h0M1951.6 392.4h0M1939.5 397.7h0M1946.0 395.8h0M1936.2 431.5h0M1947.4 399.9h0M1949.2 395.7h0M1942.9 376.7h0M1940.0 386.4h0M1945.6 369.1h0M1931.6 390.7h0M1943.1 387.7h0M1947.9 375.0h0M1922.6 413.1h0M1944.9 401.4h0M1942.7 395.6h0M1930.4 426.1h0M1929.1 419.4h0M1937.0 399.4h0M1939.7 421.8h0" stroke="#69A0CC" stroke-width="7.6" stroke-linecap="round" fill="none"/>
<path d="M1801.4 501.9h0M1809.5 521.6h0M1803.8 498.9h0M1820.4 484.6h0M1816.8 494.3h0M1828.3 494.1h0M1806.5 480.0h0M1801.2 487.1h0M1809.6 483.7h0M1811.8 508.0h0M1815.9 491.0h0M1802.0 483.1h0M1826.5 486.9h0M1815.2 483.3h0M1821.9 480.7h0M1823.2 483.3h0M1823.8 494.5h0M1826.8 497.3h0M1820.7 497.5h0M1807.2 493.6h0M1804.2 486.1h0M1804.8 502.3h0M1806.9 498.5h0M1807.5 471.7h0M1807.5 517.7h0M1810.5 489.8h0M1805.3 511.2h0M1816.5 498.2h0M1803.3 478.2h0M1811.7 478.5h0M1807.6 508.5h0M1820.2 500.7h0M1820.4 489.0h0M1814.3 487.1h0M1811.5 513.6h0M1806.7 475.5h0M1810.1 504.8h0M1812.7 493.8h0M1819.9 477.4h0M1800.3 498.6h0M1811.1 486.5h0M1812.6 471.9h0M1814.6 477.9h0M1810.1 495.6h0M1805.0 468.5h0M1804.4 492.7h0M1804.9 482.6h0M1810.6 518.6h0M1827.7 490.0h0M1823.7 500.3h0M1807.8 513.3h0M1799.7 490.0h0M1808.7 466.3h0M1817.7 481.0h0M1817.0 473.5h0M1803.0 507.5h0M1820.8 492.7h0M1812.1 482.0h0M1806.4 505.8h0M1808.6 460.9h0M1806.8 488.6h0M1823.5 489.0h0M1817.5 487.3h0M1809.5 474.8h0M1808.7 502.2h0M1824.9 480.8h0M1799.9 493.2h0M1806.4 464.3h0M1803.3 495.8h0M1809.7 469.4h0M1809.8 525.5h0M1804.8 473.3h0M1804.0 489.8h0M1813.1 475.0h0" stroke="#69A0CC" stroke-width="7.6" stroke-linecap="round" fill="none"/>
<path d="M1927.1 488.7h0M1925.7 495.6h0M1926.8 499.1h0M1934.3 481.1h0M1929.5 491.6h0M1932.1 483.5h0M1928.4 482.8h0M1930.0 496.1h0M1933.0 492.6h0M1933.7 487.8h0M1928.8 479.4h0M1930.7 488.9h0M1926.6 492.2h0M1930.4 485.9h0M1929.7 499.0h0M1931.8 479.5h0" stroke="#6DB47E" stroke-width="7.6" stroke-linecap="round" fill="none"/>
<path d="M1948.7 541.1h0M1961.8 541.1h0M1960.4 536.6h0M1954.5 516.5h0M1959.0 539.3h0M1958.3 527.3h0M1949.4 545.7h0M1955.4 512.6h0M1958.7 518.2h0M1959.9 531.9h0M1952.4 537.3h0M1954.7 520.3h0M1952.4 510.6h0M1960.3 522.3h0M1956.6 536.1h0M1956.0 529.1h0M1956.5 533.0h0M1955.4 526.0h0M1961.2 527.7h0M1952.7 513.8h0M1956.9 522.4h0M1951.5 542.1h0M1957.4 514.9h0M1961.8 544.1h0M1949.1 538.1h0" stroke="#6DB47E" stroke-width="7.6" stroke-linecap="round" fill="none"/>
<path d="M1928.7 580.8h0M1928.2 595.4h0M1929.2 587.9h0M1931.8 593.5h0M1934.6 581.6h0M1932.3 577.0h0M1937.8 592.1h0M1934.9 573.9h0M1929.3 590.8h0M1927.0 583.5h0M1936.0 576.9h0M1937.5 583.3h0M1937.1 588.8h0M1931.1 574.2h0M1934.4 587.7h0M1935.3 569.5h0M1934.7 594.3h0M1931.7 586.4h0M1929.1 577.8h0M1930.4 583.2h0M1934.6 597.5h0M1934.4 591.0h0M1931.1 596.4h0M1933.2 571.4h0M1937.3 596.2h0M1934.8 584.8h0M1931.7 579.9h0M1938.3 586.1h0M1926.5 589.6h0" stroke="#6DB47E" stroke-width="7.6" stroke-linecap="round" fill="none"/>
<path d="M1897.3 553.5h0M1904.4 562.1h0M1899.2 549.6h0M1904.7 568.4h0M1911.8 577.1h0M1905.9 554.7h0M1894.5 557.9h0M1901.2 554.0h0M1901.5 562.2h0M1906.5 564.9h0M1905.6 558.6h0M1909.5 579.2h0M1899.0 564.8h0M1897.9 560.3h0M1907.7 572.8h0M1904.5 573.9h0M1901.0 559.2h0M1906.3 577.9h0M1901.9 567.4h0M1899.3 556.8h0M1903.9 552.2h0M1910.1 582.7h0M1908.6 575.7h0M1907.7 561.2h0M1895.6 563.3h0M1903.5 556.6h0M1902.1 550.0h0M1903.4 571.2h0" stroke="#6DB47E" stroke-width="7.6" stroke-linecap="round" fill="none"/>
<path d="M1886.9 580.7h0M1889.1 601.5h0M1885.8 609.3h0M1900.6 597.2h0M1886.0 603.8h0M1905.1 594.8h0M1895.5 594.0h0M1882.6 586.6h0M1880.3 581.2h0M1888.3 576.2h0M1891.0 588.5h0M1886.2 595.6h0M1889.2 591.7h0M1888.2 587.0h0M1884.8 589.2h0M1878.3 591.1h0M1883.3 601.2h0M1897.4 590.8h0M1891.7 593.6h0M1882.6 594.0h0M1900.2 591.5h0M1889.7 583.4h0M1882.9 607.6h0M1881.1 604.2h0M1895.1 598.8h0M1885.3 598.9h0M1884.9 577.7h0M1881.3 589.8h0M1878.6 586.7h0M1898.5 593.9h0M1891.8 596.7h0M1889.2 598.6h0M1880.0 595.5h0M1891.7 603.9h0M1894.0 587.2h0M1881.2 598.7h0M1885.2 584.8h0M1894.1 602.2h0M1883.7 580.5h0M1889.4 606.1h0M1894.5 590.5h0M1901.9 599.8h0M1898.0 599.4h0M1904.7 598.7h0M1881.5 583.9h0" stroke="#6DB47E" stroke-width="7.6" stroke-linecap="round" fill="none"/>
<path d="M1721.9 301.2h0M1723.5 304.2h0M1722.8 307.2h0M1720.0 310.0h0M1723.0 313.7h0M1724.3 317.6h0M1724.0 321.6h0M1724.0 324.7h0M1723.6 328.5h0M1722.1 330.4h0M1723.1 328.2h0M1724.0 324.8h0M1724.5 320.9h0M1724.8 318.3h0M1722.1 314.6h0M1720.8 310.7h0M1721.9 307.2h0M1724.3 305.0h0" stroke="#8C963F" stroke-width="7.0" stroke-linecap="round" fill="none"/>
<path d="M1940.6 501.7h0M1943.1 505.4h0M1943.3 508.9h0M1943.4 506.0h0" stroke="#6DB47E" stroke-width="7.0" stroke-linecap="round" fill="none"/>
<path d="M1904.1 256.1h0" stroke="#8D68A6" stroke-width="7.0" stroke-linecap="round" fill="none"/>
<path d="M1902.5 258.0h0" stroke="#8D68A6" stroke-width="7.0" stroke-linecap="round" fill="none"/>
<path d="M1906.0 259.0h0" stroke="#8D68A6" stroke-width="7.0" stroke-linecap="round" fill="none"/>
<path d="M1903.0 261.0h0" stroke="#8D68A6" stroke-width="7.0" stroke-linecap="round" fill="none"/>
<path d="M1907.0 255.0h0" stroke="#8D68A6" stroke-width="7.0" stroke-linecap="round" fill="none"/>
<path d="M1891.8 490.1h0" stroke="#8C963F" stroke-width="7.0" stroke-linecap="round" fill="none"/>
<path d="M1891.1 492.8h0" stroke="#69A0CC" stroke-width="7.0" stroke-linecap="round" fill="none"/>
<path d="M1892.5 498.3h0" stroke="#69A0CC" stroke-width="7.0" stroke-linecap="round" fill="none"/>
<path d="M1904.0 494.9h0" stroke="#69A0CC" stroke-width="7.0" stroke-linecap="round" fill="none"/>
<path d="M1899.2 499.6h0" stroke="#6DB47E" stroke-width="7.0" stroke-linecap="round" fill="none"/>
<path d="M1904.7 503.7h0" stroke="#6DB47E" stroke-width="7.0" stroke-linecap="round" fill="none"/>
<path d="M1911.4 498.9h0" stroke="#6DB47E" stroke-width="7.0" stroke-linecap="round" fill="none"/>
<path d="M1927.6 435.1h0" stroke="#6DB47E" stroke-width="7.0" stroke-linecap="round" fill="none"/>
<path d="M1934.5 441.4h0" stroke="#69A0CC" stroke-width="7.0" stroke-linecap="round" fill="none"/>
<path d="M1894.0 493.0h0" stroke="#8C963F" stroke-width="7.0" stroke-linecap="round" fill="none"/>
<text transform="translate(203.0 294.5) scale(1 1.050)" font-size="30" text-anchor="middle" fill="#000">3</text>
<text transform="translate(333.7 194.6) scale(1 1.050)" font-size="30" text-anchor="middle" fill="#000">4</text>
<text transform="translate(319.5 332.7) scale(1 1.050)" font-size="30" text-anchor="middle" fill="#000">0</text>
<text transform="translate(219.6 489.8) scale(1 1.050)" font-size="30" text-anchor="middle" fill="#000">2</text>
<text transform="translate(469.8 552.3) scale(1 1.050)" font-size="30" text-anchor="middle" fill="#000">1</text>
<text transform="translate(905.6 180.9) scale(1 1.050)" font-size="30" text-anchor="middle" fill="#000">3</text>
<text transform="translate(1024.1 265.1) scale(1 1.050)" font-size="30" text-anchor="middle" fill="#000">1</text>
<text transform="translate(1150.8 372.9) scale(1 1.050)" font-size="30" text-anchor="middle" fill="#000">4</text>
<text transform="translate(1058.5 552.5) scale(1 1.050)" font-size="30" text-anchor="middle" fill="#000">0</text>
<text transform="translate(1199.2 552.8) scale(1 1.050)" font-size="30" text-anchor="middle" fill="#000">2</text>
<text transform="translate(1565.0 208.0) scale(1 1.050)" font-size="32" text-anchor="middle" fill="#000">0</text>
<text transform="translate(1907.3 264.3) scale(1 1.050)" font-size="32" text-anchor="middle" fill="#000">4</text>
<text transform="translate(1724.3 331.1) scale(1 1.050)" font-size="32" text-anchor="middle" fill="#000">1</text>
<text transform="translate(1831.1 475.9) scale(1 1.050)" font-size="32" text-anchor="middle" fill="#000">3</text>
<text transform="translate(1928.0 573.5) scale(1 1.050)" font-size="32" text-anchor="middle" fill="#000">2</text>
<circle cx="576.3" cy="318.7" r="7.8" fill="#C76565"/>
<text transform="translate(592.0 328.4) scale(1 1.050)" font-size="27" text-anchor="start" fill="#000">0</text>
<circle cx="576.3" cy="349.4" r="7.8" fill="#8C963F"/>
<text transform="translate(592.0 359.1) scale(1 1.050)" font-size="27" text-anchor="start" fill="#000">1</text>
<circle cx="576.3" cy="380.0" r="7.8" fill="#6DB47E"/>
<text transform="translate(592.0 389.7) scale(1 1.050)" font-size="27" text-anchor="start" fill="#000">2</text>
<circle cx="576.3" cy="411.4" r="7.8" fill="#69A0CC"/>
<text transform="translate(592.0 421.1) scale(1 1.050)" font-size="27" text-anchor="start" fill="#000">3</text>
<circle cx="576.3" cy="442.0" r="7.8" fill="#8D68A6"/>
<text transform="translate(592.0 451.7) scale(1 1.050)" font-size="27" text-anchor="start" fill="#000">4</text>
<circle cx="1287.8" cy="320.2" r="7.8" fill="#C76565"/>
<text transform="translate(1306.0 329.9) scale(1 1.050)" font-size="27" text-anchor="start" fill="#000">0</text>
<circle cx="1287.8" cy="350.4" r="7.8" fill="#8C963F"/>
<text transform="translate(1306.0 360.1) scale(1 1.050)" font-size="27" text-anchor="start" fill="#000">1</text>
<circle cx="1287.8" cy="380.5" r="7.8" fill="#6DB47E"/>
<text transform="translate(1306.0 390.2) scale(1 1.050)" font-size="27" text-anchor="start" fill="#000">2</text>
<circle cx="1287.8" cy="410.6" r="7.8" fill="#69A0CC"/>
<text transform="translate(1306.0 420.3) scale(1 1.050)" font-size="27" text-anchor="start" fill="#000">3</text>
<circle cx="1287.8" cy="440.7" r="7.8" fill="#8D68A6"/>
<text transform="translate(1306.0 450.4) scale(1 1.050)" font-size="27" text-anchor="start" fill="#000">4</text>
<circle cx="2005.7" cy="317.3" r="7.5" fill="#C76565"/>
<text transform="translate(2024.0 327.0) scale(1 1.050)" font-size="27" text-anchor="start" fill="#000">0</text>
<circle cx="2005.7" cy="346.8" r="7.5" fill="#8C963F"/>
<text transform="translate(2024.0 356.5) scale(1 1.050)" font-size="27" text-anchor="start" fill="#000">1</text>
<circle cx="2005.7" cy="376.2" r="7.5" fill="#6DB47E"/>
<text transform="translate(2024.0 385.9) scale(1 1.050)" font-size="27" text-anchor="start" fill="#000">2</text>
<circle cx="2005.7" cy="405.5" r="7.5" fill="#69A0CC"/>
<text transform="translate(2024.0 415.2) scale(1 1.050)" font-size="27" text-anchor="start" fill="#000">3</text>
<circle cx="2005.7" cy="434.9" r="7.5" fill="#8D68A6"/>
<text transform="translate(2024.0 444.6) scale(1 1.050)" font-size="27" text-anchor="start" fill="#000">4</text>
</svg>
</body></html>
